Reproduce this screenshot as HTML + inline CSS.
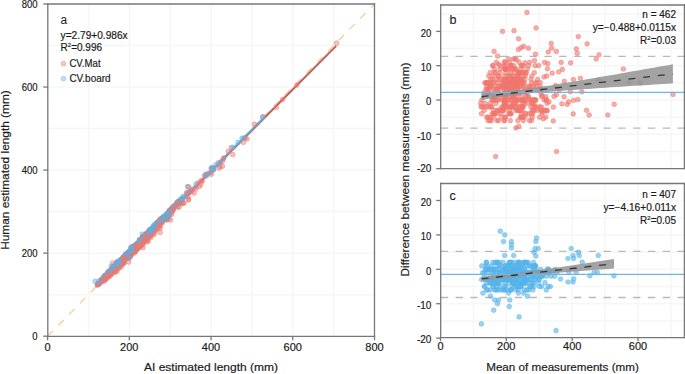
<!DOCTYPE html><html><head><meta charset="utf-8"><style>html,body{margin:0;padding:0;background:#fff;overflow:hidden}svg{display:block}</style></head><body><svg width="685" height="374" viewBox="0 0 685 374" font-family="'Liberation Sans', sans-serif" fill="#1a1a1a">
<style>text{stroke:#1a1a1a;stroke-width:0.18px} .r{fill:rgba(240,118,110,0.45);stroke:rgba(240,118,110,0.62)} .b{fill:rgba(86,180,233,0.45);stroke:rgba(86,180,233,0.62)}</style>
<rect width="685" height="374" fill="#fff"/>
<g stroke="#f6f6f6" stroke-width="1.5"><line x1="88.46" y1="4.0" x2="88.46" y2="336.3"/><line x1="47.8" y1="294.68" x2="374.5" y2="294.68"/><line x1="129.32" y1="4.0" x2="129.32" y2="336.3"/><line x1="47.8" y1="253.15" x2="374.5" y2="253.15"/><line x1="170.19" y1="4.0" x2="170.19" y2="336.3"/><line x1="47.8" y1="211.62" x2="374.5" y2="211.62"/><line x1="211.05" y1="4.0" x2="211.05" y2="336.3"/><line x1="47.8" y1="170.10" x2="374.5" y2="170.10"/><line x1="251.91" y1="4.0" x2="251.91" y2="336.3"/><line x1="47.8" y1="128.57" x2="374.5" y2="128.57"/><line x1="292.77" y1="4.0" x2="292.77" y2="336.3"/><line x1="47.8" y1="87.05" x2="374.5" y2="87.05"/><line x1="333.64" y1="4.0" x2="333.64" y2="336.3"/><line x1="47.8" y1="45.52" x2="374.5" y2="45.52"/></g>
<line x1="47.60" y1="336.20" x2="374.50" y2="4.00" stroke="#F3CA88" stroke-width="1.15" stroke-dasharray="7.6 7.77"/>
<line x1="96.63" y1="285.91" x2="336.09" y2="45.98" stroke="#c8c8c8" stroke-opacity="0.5" stroke-width="3.2"/>
<line x1="96.63" y1="285.91" x2="336.09" y2="45.98" stroke="#BF534C" stroke-width="1.7"/>
<line x1="95.82" y1="286.37" x2="262.54" y2="118.81" stroke="#56AEE3" stroke-width="1.7"/>
<g stroke-width="0.8"><circle cx="142.4" cy="237.4" r="2.35" class="r"/><circle cx="135.0" cy="251.5" r="2.35" class="r"/><circle cx="105.8" cy="279.1" r="2.35" class="r"/><circle cx="156.7" cy="225.7" r="2.35" class="r"/><circle cx="163.4" cy="217.6" r="2.35" class="r"/><circle cx="141.6" cy="239.4" r="2.35" class="b"/><circle cx="148.1" cy="236.1" r="2.35" class="r"/><circle cx="146.1" cy="234.0" r="2.35" class="b"/><circle cx="124.8" cy="259.8" r="2.35" class="r"/><circle cx="125.4" cy="257.9" r="2.35" class="b"/><circle cx="154.1" cy="234.5" r="2.35" class="r"/><circle cx="129.7" cy="256.9" r="2.35" class="r"/><circle cx="162.0" cy="219.1" r="2.35" class="b"/><circle cx="152.2" cy="229.9" r="2.35" class="b"/><circle cx="130.3" cy="255.8" r="2.35" class="r"/><circle cx="134.2" cy="249.4" r="2.35" class="r"/><circle cx="132.6" cy="252.3" r="2.35" class="r"/><circle cx="125.0" cy="256.3" r="2.35" class="r"/><circle cx="172.0" cy="208.9" r="2.35" class="b"/><circle cx="114.0" cy="268.7" r="2.35" class="r"/><circle cx="135.9" cy="246.5" r="2.35" class="b"/><circle cx="137.9" cy="243.6" r="2.35" class="b"/><circle cx="171.6" cy="214.4" r="2.35" class="r"/><circle cx="136.1" cy="245.5" r="2.35" class="r"/><circle cx="242.1" cy="138.2" r="2.35" class="b"/><circle cx="131.4" cy="250.7" r="2.35" class="b"/><circle cx="172.6" cy="210.0" r="2.35" class="r"/><circle cx="174.1" cy="205.4" r="2.35" class="r"/><circle cx="136.9" cy="248.4" r="2.35" class="r"/><circle cx="159.8" cy="220.1" r="2.35" class="b"/><circle cx="143.8" cy="240.1" r="2.35" class="r"/><circle cx="139.7" cy="240.1" r="2.35" class="b"/><circle cx="142.2" cy="240.5" r="2.35" class="r"/><circle cx="128.9" cy="252.7" r="2.35" class="r"/><circle cx="112.6" cy="268.5" r="2.35" class="b"/><circle cx="163.4" cy="217.2" r="2.35" class="b"/><circle cx="123.2" cy="258.5" r="2.35" class="r"/><circle cx="144.2" cy="236.7" r="2.35" class="r"/><circle cx="163.9" cy="218.1" r="2.35" class="r"/><circle cx="129.7" cy="254.8" r="2.35" class="r"/><circle cx="162.6" cy="219.7" r="2.35" class="b"/><circle cx="163.6" cy="218.3" r="2.35" class="b"/><circle cx="245.1" cy="138.0" r="2.35" class="r"/><circle cx="194.2" cy="193.1" r="2.35" class="r"/><circle cx="155.1" cy="227.4" r="2.35" class="b"/><circle cx="145.1" cy="236.7" r="2.35" class="b"/><circle cx="138.7" cy="243.6" r="2.35" class="b"/><circle cx="149.5" cy="229.8" r="2.35" class="b"/><circle cx="148.9" cy="232.4" r="2.35" class="r"/><circle cx="138.3" cy="245.7" r="2.35" class="r"/><circle cx="98.1" cy="283.7" r="2.35" class="b"/><circle cx="141.4" cy="240.9" r="2.35" class="r"/><circle cx="128.1" cy="256.0" r="2.35" class="b"/><circle cx="148.7" cy="233.8" r="2.35" class="r"/><circle cx="143.1" cy="236.0" r="2.35" class="r"/><circle cx="144.2" cy="240.1" r="2.35" class="r"/><circle cx="176.9" cy="204.4" r="2.35" class="b"/><circle cx="155.7" cy="226.0" r="2.35" class="b"/><circle cx="115.2" cy="267.5" r="2.35" class="r"/><circle cx="173.6" cy="206.7" r="2.35" class="r"/><circle cx="141.4" cy="240.1" r="2.35" class="b"/><circle cx="153.2" cy="227.2" r="2.35" class="b"/><circle cx="172.7" cy="208.2" r="2.35" class="r"/><circle cx="108.7" cy="275.8" r="2.35" class="r"/><circle cx="133.8" cy="247.3" r="2.35" class="b"/><circle cx="99.1" cy="284.3" r="2.35" class="b"/><circle cx="179.1" cy="207.2" r="2.35" class="r"/><circle cx="182.9" cy="196.7" r="2.35" class="b"/><circle cx="148.9" cy="232.4" r="2.35" class="r"/><circle cx="117.9" cy="268.1" r="2.35" class="r"/><circle cx="137.3" cy="243.8" r="2.35" class="b"/><circle cx="206.6" cy="174.4" r="2.35" class="r"/><circle cx="106.2" cy="277.0" r="2.35" class="b"/><circle cx="126.7" cy="255.0" r="2.35" class="b"/><circle cx="212.4" cy="167.6" r="2.35" class="b"/><circle cx="134.4" cy="248.8" r="2.35" class="b"/><circle cx="105.4" cy="277.4" r="2.35" class="b"/><circle cx="152.4" cy="233.0" r="2.35" class="r"/><circle cx="180.8" cy="203.7" r="2.35" class="r"/><circle cx="144.6" cy="238.8" r="2.35" class="r"/><circle cx="158.7" cy="221.2" r="2.35" class="b"/><circle cx="146.3" cy="238.0" r="2.35" class="r"/><circle cx="153.2" cy="231.3" r="2.35" class="r"/><circle cx="186.5" cy="194.6" r="2.35" class="b"/><circle cx="231.3" cy="147.7" r="2.35" class="r"/><circle cx="119.1" cy="268.1" r="2.35" class="r"/><circle cx="123.6" cy="262.7" r="2.35" class="r"/><circle cx="132.2" cy="250.2" r="2.35" class="r"/><circle cx="172.8" cy="207.3" r="2.35" class="r"/><circle cx="141.0" cy="240.9" r="2.35" class="r"/><circle cx="133.8" cy="247.3" r="2.35" class="b"/><circle cx="128.7" cy="257.9" r="2.35" class="r"/><circle cx="195.7" cy="187.0" r="2.35" class="r"/><circle cx="101.7" cy="280.8" r="2.35" class="b"/><circle cx="114.2" cy="266.9" r="2.35" class="b"/><circle cx="156.7" cy="225.7" r="2.35" class="r"/><circle cx="150.0" cy="230.9" r="2.35" class="b"/><circle cx="130.1" cy="254.0" r="2.35" class="r"/><circle cx="158.3" cy="223.3" r="2.35" class="b"/><circle cx="143.6" cy="237.8" r="2.35" class="b"/><circle cx="161.0" cy="219.7" r="2.35" class="r"/><circle cx="132.6" cy="249.0" r="2.35" class="b"/><circle cx="158.3" cy="222.4" r="2.35" class="b"/><circle cx="223.9" cy="157.9" r="2.35" class="b"/><circle cx="149.8" cy="234.9" r="2.35" class="r"/><circle cx="165.3" cy="216.6" r="2.35" class="r"/><circle cx="140.2" cy="244.6" r="2.35" class="r"/><circle cx="154.5" cy="230.5" r="2.35" class="r"/><circle cx="117.1" cy="263.9" r="2.35" class="b"/><circle cx="130.6" cy="252.7" r="2.35" class="r"/><circle cx="187.2" cy="193.5" r="2.35" class="r"/><circle cx="131.6" cy="252.9" r="2.35" class="r"/><circle cx="254.4" cy="124.2" r="2.35" class="r"/><circle cx="113.6" cy="266.6" r="2.35" class="b"/><circle cx="124.0" cy="257.3" r="2.35" class="b"/><circle cx="126.9" cy="254.8" r="2.35" class="b"/><circle cx="108.7" cy="276.2" r="2.35" class="r"/><circle cx="126.3" cy="254.2" r="2.35" class="b"/><circle cx="139.3" cy="242.6" r="2.35" class="b"/><circle cx="128.9" cy="253.1" r="2.35" class="b"/><circle cx="133.8" cy="246.1" r="2.35" class="b"/><circle cx="139.9" cy="240.7" r="2.35" class="b"/><circle cx="220.6" cy="162.1" r="2.35" class="b"/><circle cx="159.2" cy="227.0" r="2.35" class="r"/><circle cx="137.3" cy="248.4" r="2.35" class="b"/><circle cx="126.3" cy="256.3" r="2.35" class="b"/><circle cx="150.6" cy="233.6" r="2.35" class="r"/><circle cx="133.6" cy="248.8" r="2.35" class="b"/><circle cx="135.7" cy="244.6" r="2.35" class="b"/><circle cx="98.7" cy="283.5" r="2.35" class="r"/><circle cx="184.2" cy="203.2" r="2.35" class="r"/><circle cx="192.0" cy="189.0" r="2.35" class="b"/><circle cx="135.9" cy="246.5" r="2.35" class="r"/><circle cx="161.8" cy="218.5" r="2.35" class="b"/><circle cx="105.4" cy="275.0" r="2.35" class="r"/><circle cx="105.4" cy="275.4" r="2.35" class="r"/><circle cx="123.4" cy="257.9" r="2.35" class="b"/><circle cx="148.2" cy="241.4" r="2.35" class="r"/><circle cx="157.7" cy="223.9" r="2.35" class="b"/><circle cx="142.0" cy="239.0" r="2.35" class="r"/><circle cx="177.7" cy="202.7" r="2.35" class="r"/><circle cx="129.5" cy="254.2" r="2.35" class="r"/><circle cx="132.6" cy="251.5" r="2.35" class="r"/><circle cx="163.0" cy="216.8" r="2.35" class="b"/><circle cx="133.0" cy="248.6" r="2.35" class="b"/><circle cx="130.8" cy="254.2" r="2.35" class="r"/><circle cx="107.7" cy="276.4" r="2.35" class="r"/><circle cx="139.3" cy="242.1" r="2.35" class="r"/><circle cx="154.0" cy="228.0" r="2.35" class="r"/><circle cx="151.2" cy="229.3" r="2.35" class="b"/><circle cx="120.7" cy="261.9" r="2.35" class="b"/><circle cx="120.3" cy="260.6" r="2.35" class="b"/><circle cx="135.7" cy="251.3" r="2.35" class="r"/><circle cx="140.4" cy="246.1" r="2.35" class="r"/><circle cx="128.7" cy="262.1" r="2.35" class="r"/><circle cx="173.7" cy="208.5" r="2.35" class="r"/><circle cx="134.8" cy="248.8" r="2.35" class="r"/><circle cx="181.8" cy="199.8" r="2.35" class="b"/><circle cx="151.2" cy="230.5" r="2.35" class="r"/><circle cx="152.2" cy="228.7" r="2.35" class="b"/><circle cx="114.6" cy="266.4" r="2.35" class="r"/><circle cx="151.2" cy="228.9" r="2.35" class="r"/><circle cx="169.8" cy="211.2" r="2.35" class="b"/><circle cx="114.0" cy="270.8" r="2.35" class="r"/><circle cx="127.5" cy="254.6" r="2.35" class="r"/><circle cx="135.5" cy="248.6" r="2.35" class="r"/><circle cx="124.2" cy="257.1" r="2.35" class="b"/><circle cx="157.3" cy="228.4" r="2.35" class="r"/><circle cx="165.9" cy="216.0" r="2.35" class="r"/><circle cx="118.5" cy="266.2" r="2.35" class="r"/><circle cx="126.9" cy="256.1" r="2.35" class="r"/><circle cx="136.3" cy="246.1" r="2.35" class="r"/><circle cx="139.3" cy="242.1" r="2.35" class="b"/><circle cx="147.1" cy="238.4" r="2.35" class="r"/><circle cx="219.2" cy="168.0" r="2.35" class="r"/><circle cx="163.4" cy="219.3" r="2.35" class="b"/><circle cx="121.8" cy="263.3" r="2.35" class="r"/><circle cx="140.6" cy="240.5" r="2.35" class="b"/><circle cx="146.9" cy="233.6" r="2.35" class="b"/><circle cx="152.4" cy="230.5" r="2.35" class="b"/><circle cx="142.8" cy="239.0" r="2.35" class="b"/><circle cx="120.5" cy="262.9" r="2.35" class="b"/><circle cx="142.2" cy="240.1" r="2.35" class="r"/><circle cx="127.9" cy="254.2" r="2.35" class="b"/><circle cx="238.0" cy="142.4" r="2.35" class="b"/><circle cx="179.4" cy="201.0" r="2.35" class="r"/><circle cx="139.3" cy="241.7" r="2.35" class="b"/><circle cx="146.1" cy="236.1" r="2.35" class="b"/><circle cx="125.4" cy="258.8" r="2.35" class="r"/><circle cx="148.5" cy="231.6" r="2.35" class="r"/><circle cx="139.9" cy="242.4" r="2.35" class="r"/><circle cx="146.9" cy="235.3" r="2.35" class="b"/><circle cx="161.0" cy="218.5" r="2.35" class="b"/><circle cx="211.3" cy="174.3" r="2.35" class="r"/><circle cx="147.1" cy="235.1" r="2.35" class="b"/><circle cx="132.6" cy="252.7" r="2.35" class="r"/><circle cx="158.5" cy="223.9" r="2.35" class="b"/><circle cx="187.9" cy="196.9" r="2.35" class="r"/><circle cx="150.4" cy="235.1" r="2.35" class="r"/><circle cx="139.1" cy="245.3" r="2.35" class="r"/><circle cx="160.4" cy="219.5" r="2.35" class="r"/><circle cx="133.6" cy="249.6" r="2.35" class="r"/><circle cx="129.9" cy="251.7" r="2.35" class="b"/><circle cx="134.0" cy="245.9" r="2.35" class="b"/><circle cx="180.4" cy="199.2" r="2.35" class="b"/><circle cx="223.5" cy="158.4" r="2.35" class="r"/><circle cx="120.9" cy="261.2" r="2.35" class="b"/><circle cx="109.3" cy="273.1" r="2.35" class="r"/><circle cx="142.9" cy="236.5" r="2.35" class="b"/><circle cx="165.3" cy="217.0" r="2.35" class="b"/><circle cx="107.7" cy="272.7" r="2.35" class="r"/><circle cx="149.8" cy="236.1" r="2.35" class="r"/><circle cx="131.2" cy="252.5" r="2.35" class="r"/><circle cx="139.5" cy="244.0" r="2.35" class="r"/><circle cx="130.8" cy="252.1" r="2.35" class="b"/><circle cx="212.9" cy="169.9" r="2.35" class="b"/><circle cx="166.1" cy="218.2" r="2.35" class="b"/><circle cx="97.7" cy="284.5" r="2.35" class="r"/><circle cx="120.5" cy="260.0" r="2.35" class="b"/><circle cx="128.3" cy="254.6" r="2.35" class="b"/><circle cx="129.5" cy="253.8" r="2.35" class="r"/><circle cx="182.4" cy="198.8" r="2.35" class="b"/><circle cx="172.8" cy="208.1" r="2.35" class="b"/><circle cx="161.2" cy="223.3" r="2.35" class="r"/><circle cx="141.6" cy="240.7" r="2.35" class="b"/><circle cx="113.4" cy="269.3" r="2.35" class="b"/><circle cx="141.2" cy="244.4" r="2.35" class="r"/><circle cx="137.5" cy="245.3" r="2.35" class="b"/><circle cx="161.2" cy="219.1" r="2.35" class="b"/><circle cx="144.9" cy="240.3" r="2.35" class="r"/><circle cx="145.5" cy="238.8" r="2.35" class="r"/><circle cx="222.6" cy="161.0" r="2.35" class="r"/><circle cx="131.4" cy="254.8" r="2.35" class="r"/><circle cx="111.5" cy="271.2" r="2.35" class="r"/><circle cx="136.1" cy="245.5" r="2.35" class="b"/><circle cx="124.4" cy="257.3" r="2.35" class="b"/><circle cx="102.4" cy="279.3" r="2.35" class="b"/><circle cx="142.0" cy="238.2" r="2.35" class="b"/><circle cx="165.7" cy="219.5" r="2.35" class="r"/><circle cx="146.9" cy="238.6" r="2.35" class="r"/><circle cx="112.4" cy="268.3" r="2.35" class="b"/><circle cx="157.7" cy="222.6" r="2.35" class="b"/><circle cx="120.9" cy="261.2" r="2.35" class="b"/><circle cx="145.9" cy="237.2" r="2.35" class="b"/><circle cx="131.6" cy="250.0" r="2.35" class="b"/><circle cx="124.8" cy="259.4" r="2.35" class="r"/><circle cx="130.1" cy="256.9" r="2.35" class="r"/><circle cx="150.6" cy="231.6" r="2.35" class="r"/><circle cx="118.7" cy="264.8" r="2.35" class="b"/><circle cx="159.0" cy="222.6" r="2.35" class="b"/><circle cx="218.2" cy="162.9" r="2.35" class="r"/><circle cx="128.9" cy="257.3" r="2.35" class="r"/><circle cx="108.9" cy="272.3" r="2.35" class="b"/><circle cx="137.9" cy="248.6" r="2.35" class="r"/><circle cx="154.7" cy="226.6" r="2.35" class="b"/><circle cx="103.8" cy="279.1" r="2.35" class="b"/><circle cx="136.3" cy="246.5" r="2.35" class="r"/><circle cx="134.0" cy="248.8" r="2.35" class="b"/><circle cx="124.1" cy="263.1" r="2.35" class="b"/><circle cx="153.6" cy="226.0" r="2.35" class="b"/><circle cx="154.0" cy="226.8" r="2.35" class="b"/><circle cx="211.5" cy="168.0" r="2.35" class="r"/><circle cx="159.0" cy="224.7" r="2.35" class="r"/><circle cx="147.3" cy="239.4" r="2.35" class="r"/><circle cx="142.4" cy="237.8" r="2.35" class="b"/><circle cx="150.6" cy="231.1" r="2.35" class="b"/><circle cx="135.5" cy="246.1" r="2.35" class="b"/><circle cx="146.5" cy="233.6" r="2.35" class="b"/><circle cx="148.1" cy="236.5" r="2.35" class="r"/><circle cx="169.8" cy="210.0" r="2.35" class="b"/><circle cx="166.6" cy="220.0" r="2.35" class="r"/><circle cx="104.0" cy="276.8" r="2.35" class="r"/><circle cx="172.2" cy="211.2" r="2.35" class="r"/><circle cx="117.7" cy="263.3" r="2.35" class="b"/><circle cx="131.6" cy="252.1" r="2.35" class="r"/><circle cx="146.9" cy="234.5" r="2.35" class="r"/><circle cx="136.5" cy="244.2" r="2.35" class="b"/><circle cx="136.5" cy="245.1" r="2.35" class="r"/><circle cx="138.1" cy="243.8" r="2.35" class="r"/><circle cx="140.6" cy="240.1" r="2.35" class="b"/><circle cx="118.1" cy="267.1" r="2.35" class="r"/><circle cx="121.2" cy="261.9" r="2.35" class="b"/><circle cx="116.3" cy="262.2" r="2.35" class="b"/><circle cx="128.7" cy="251.3" r="2.35" class="b"/><circle cx="162.4" cy="222.4" r="2.35" class="r"/><circle cx="112.8" cy="268.7" r="2.35" class="r"/><circle cx="127.1" cy="253.8" r="2.35" class="b"/><circle cx="121.4" cy="260.0" r="2.35" class="r"/><circle cx="132.6" cy="248.6" r="2.35" class="r"/><circle cx="137.9" cy="244.8" r="2.35" class="r"/><circle cx="141.4" cy="241.3" r="2.35" class="b"/><circle cx="130.8" cy="247.2" r="2.35" class="b"/><circle cx="120.7" cy="264.8" r="2.35" class="r"/><circle cx="131.8" cy="246.9" r="2.35" class="b"/><circle cx="143.0" cy="236.7" r="2.35" class="b"/><circle cx="104.4" cy="279.7" r="2.35" class="r"/><circle cx="152.0" cy="228.9" r="2.35" class="b"/><circle cx="148.1" cy="232.0" r="2.35" class="r"/><circle cx="130.8" cy="252.9" r="2.35" class="r"/><circle cx="126.5" cy="255.6" r="2.35" class="r"/><circle cx="114.4" cy="272.5" r="2.35" class="r"/><circle cx="141.0" cy="240.1" r="2.35" class="b"/><circle cx="145.3" cy="236.1" r="2.35" class="r"/><circle cx="127.5" cy="257.5" r="2.35" class="r"/><circle cx="125.4" cy="256.3" r="2.35" class="r"/><circle cx="129.5" cy="252.5" r="2.35" class="r"/><circle cx="128.3" cy="252.9" r="2.35" class="b"/><circle cx="109.1" cy="272.0" r="2.35" class="b"/><circle cx="139.9" cy="243.2" r="2.35" class="b"/><circle cx="199.6" cy="186.3" r="2.35" class="r"/><circle cx="114.4" cy="267.1" r="2.35" class="b"/><circle cx="117.9" cy="264.4" r="2.35" class="b"/><circle cx="104.8" cy="278.9" r="2.35" class="b"/><circle cx="116.2" cy="266.0" r="2.35" class="r"/><circle cx="137.1" cy="246.5" r="2.35" class="r"/><circle cx="205.1" cy="174.6" r="2.35" class="b"/><circle cx="153.8" cy="227.8" r="2.35" class="b"/><circle cx="98.9" cy="284.1" r="2.35" class="r"/><circle cx="144.3" cy="242.8" r="2.35" class="r"/><circle cx="142.3" cy="234.2" r="2.35" class="b"/><circle cx="139.3" cy="241.7" r="2.35" class="b"/><circle cx="103.6" cy="276.8" r="2.35" class="b"/><circle cx="105.0" cy="278.7" r="2.35" class="b"/><circle cx="172.4" cy="208.9" r="2.35" class="b"/><circle cx="147.3" cy="241.0" r="2.35" class="r"/><circle cx="138.3" cy="243.6" r="2.35" class="b"/><circle cx="213.8" cy="169.8" r="2.35" class="r"/><circle cx="129.3" cy="255.2" r="2.35" class="r"/><circle cx="105.6" cy="276.8" r="2.35" class="b"/><circle cx="103.6" cy="277.6" r="2.35" class="b"/><circle cx="151.4" cy="234.0" r="2.35" class="r"/><circle cx="125.6" cy="254.4" r="2.35" class="r"/><circle cx="155.1" cy="227.8" r="2.35" class="b"/><circle cx="136.9" cy="248.0" r="2.35" class="b"/><circle cx="140.4" cy="240.7" r="2.35" class="b"/><circle cx="147.3" cy="234.0" r="2.35" class="b"/><circle cx="212.8" cy="168.3" r="2.35" class="r"/><circle cx="146.5" cy="235.7" r="2.35" class="r"/><circle cx="120.5" cy="263.3" r="2.35" class="r"/><circle cx="142.8" cy="239.4" r="2.35" class="b"/><circle cx="165.3" cy="217.0" r="2.35" class="b"/><circle cx="118.5" cy="265.0" r="2.35" class="b"/><circle cx="122.0" cy="259.0" r="2.35" class="r"/><circle cx="154.9" cy="230.5" r="2.35" class="r"/><circle cx="133.2" cy="250.0" r="2.35" class="b"/><circle cx="138.9" cy="241.3" r="2.35" class="b"/><circle cx="128.7" cy="253.8" r="2.35" class="b"/><circle cx="134.8" cy="249.6" r="2.35" class="r"/><circle cx="111.3" cy="269.8" r="2.35" class="r"/><circle cx="126.1" cy="254.0" r="2.35" class="b"/><circle cx="128.1" cy="254.4" r="2.35" class="r"/><circle cx="133.0" cy="247.8" r="2.35" class="r"/><circle cx="186.4" cy="192.6" r="2.35" class="r"/><circle cx="115.2" cy="267.5" r="2.35" class="b"/><circle cx="143.0" cy="247.7" r="2.35" class="r"/><circle cx="232.9" cy="154.7" r="2.35" class="r"/><circle cx="124.2" cy="260.0" r="2.35" class="r"/><circle cx="140.4" cy="241.9" r="2.35" class="b"/><circle cx="133.4" cy="251.1" r="2.35" class="r"/><circle cx="159.2" cy="222.0" r="2.35" class="b"/><circle cx="118.7" cy="264.4" r="2.35" class="b"/><circle cx="161.0" cy="220.6" r="2.35" class="r"/><circle cx="129.5" cy="255.0" r="2.35" class="r"/><circle cx="155.7" cy="223.9" r="2.35" class="b"/><circle cx="143.4" cy="242.6" r="2.35" class="r"/><circle cx="113.6" cy="268.3" r="2.35" class="b"/><circle cx="130.8" cy="255.4" r="2.35" class="r"/><circle cx="151.0" cy="235.3" r="2.35" class="r"/><circle cx="107.3" cy="275.6" r="2.35" class="b"/><circle cx="179.8" cy="201.5" r="2.35" class="r"/><circle cx="134.4" cy="252.9" r="2.35" class="r"/><circle cx="118.3" cy="264.4" r="2.35" class="r"/><circle cx="113.2" cy="269.6" r="2.35" class="b"/><circle cx="146.5" cy="234.9" r="2.35" class="b"/><circle cx="142.2" cy="238.8" r="2.35" class="b"/><circle cx="132.6" cy="249.0" r="2.35" class="r"/><circle cx="136.7" cy="244.8" r="2.35" class="b"/><circle cx="196.1" cy="184.1" r="2.35" class="b"/><circle cx="107.3" cy="274.3" r="2.35" class="b"/><circle cx="220.1" cy="166.6" r="2.35" class="r"/><circle cx="120.5" cy="259.6" r="2.35" class="b"/><circle cx="211.1" cy="172.6" r="2.35" class="b"/><circle cx="134.8" cy="248.0" r="2.35" class="b"/><circle cx="103.6" cy="279.3" r="2.35" class="b"/><circle cx="172.0" cy="209.8" r="2.35" class="b"/><circle cx="120.7" cy="260.6" r="2.35" class="r"/><circle cx="228.2" cy="151.4" r="2.35" class="r"/><circle cx="106.4" cy="278.5" r="2.35" class="r"/><circle cx="142.8" cy="239.4" r="2.35" class="b"/><circle cx="107.9" cy="273.7" r="2.35" class="b"/><circle cx="156.9" cy="222.6" r="2.35" class="r"/><circle cx="139.3" cy="244.7" r="2.35" class="b"/><circle cx="336.6" cy="43.2" r="2.35" class="r"/><circle cx="147.1" cy="234.7" r="2.35" class="b"/><circle cx="168.3" cy="213.1" r="2.35" class="b"/><circle cx="118.5" cy="264.2" r="2.35" class="b"/><circle cx="149.1" cy="230.5" r="2.35" class="r"/><circle cx="112.0" cy="268.7" r="2.35" class="r"/><circle cx="157.3" cy="223.0" r="2.35" class="r"/><circle cx="145.3" cy="237.4" r="2.35" class="b"/><circle cx="219.8" cy="163.3" r="2.35" class="b"/><circle cx="159.4" cy="221.8" r="2.35" class="r"/><circle cx="119.5" cy="264.4" r="2.35" class="r"/><circle cx="263.0" cy="116.8" r="2.35" class="r"/><circle cx="149.6" cy="232.2" r="2.35" class="r"/><circle cx="276.4" cy="107.5" r="2.35" class="r"/><circle cx="111.5" cy="271.6" r="2.35" class="b"/><circle cx="144.4" cy="237.0" r="2.35" class="r"/><circle cx="127.1" cy="255.0" r="2.35" class="r"/><circle cx="166.5" cy="214.5" r="2.35" class="r"/><circle cx="129.5" cy="251.7" r="2.35" class="b"/><circle cx="117.8" cy="261.2" r="2.35" class="b"/><circle cx="183.0" cy="203.0" r="2.35" class="r"/><circle cx="181.2" cy="200.0" r="2.35" class="b"/><circle cx="139.5" cy="241.9" r="2.35" class="r"/><circle cx="131.0" cy="250.7" r="2.35" class="r"/><circle cx="118.5" cy="262.9" r="2.35" class="r"/><circle cx="152.0" cy="230.1" r="2.35" class="b"/><circle cx="137.3" cy="243.4" r="2.35" class="b"/><circle cx="113.6" cy="267.5" r="2.35" class="r"/><circle cx="123.2" cy="256.9" r="2.35" class="b"/><circle cx="115.4" cy="268.5" r="2.35" class="r"/><circle cx="152.8" cy="231.3" r="2.35" class="r"/><circle cx="114.4" cy="271.2" r="2.35" class="r"/><circle cx="152.6" cy="233.6" r="2.35" class="r"/><circle cx="127.5" cy="258.4" r="2.35" class="b"/><circle cx="282.6" cy="99.5" r="2.35" class="r"/><circle cx="139.1" cy="245.7" r="2.35" class="r"/><circle cx="126.9" cy="255.6" r="2.35" class="r"/><circle cx="117.0" cy="271.5" r="2.35" class="r"/><circle cx="161.4" cy="218.9" r="2.35" class="r"/><circle cx="103.2" cy="279.3" r="2.35" class="r"/><circle cx="152.6" cy="227.8" r="2.35" class="r"/><circle cx="149.6" cy="230.9" r="2.35" class="b"/><circle cx="116.9" cy="263.3" r="2.35" class="b"/><circle cx="188.4" cy="200.0" r="2.35" class="r"/><circle cx="138.9" cy="243.8" r="2.35" class="r"/><circle cx="136.9" cy="243.8" r="2.35" class="b"/><circle cx="151.2" cy="229.7" r="2.35" class="b"/><circle cx="106.4" cy="277.2" r="2.35" class="r"/><circle cx="151.6" cy="231.3" r="2.35" class="b"/><circle cx="172.8" cy="208.5" r="2.35" class="b"/><circle cx="142.2" cy="242.1" r="2.35" class="r"/><circle cx="113.8" cy="267.7" r="2.35" class="b"/><circle cx="147.3" cy="235.3" r="2.35" class="b"/><circle cx="155.3" cy="226.4" r="2.35" class="r"/><circle cx="296.8" cy="85.1" r="2.35" class="r"/><circle cx="98.8" cy="281.3" r="2.35" class="b"/><circle cx="144.6" cy="240.5" r="2.35" class="r"/><circle cx="108.3" cy="272.5" r="2.35" class="r"/><circle cx="127.3" cy="253.1" r="2.35" class="r"/><circle cx="113.0" cy="268.1" r="2.35" class="b"/><circle cx="101.7" cy="282.0" r="2.35" class="r"/><circle cx="159.8" cy="220.6" r="2.35" class="r"/><circle cx="243.3" cy="142.3" r="2.35" class="r"/><circle cx="139.9" cy="245.3" r="2.35" class="r"/><circle cx="148.9" cy="232.8" r="2.35" class="b"/><circle cx="140.6" cy="240.9" r="2.35" class="b"/><circle cx="168.1" cy="215.4" r="2.35" class="r"/><circle cx="116.5" cy="270.0" r="2.35" class="r"/><circle cx="209.4" cy="172.8" r="2.35" class="r"/><circle cx="140.6" cy="245.5" r="2.35" class="r"/><circle cx="124.0" cy="258.1" r="2.35" class="b"/><circle cx="113.0" cy="270.6" r="2.35" class="b"/><circle cx="125.4" cy="254.6" r="2.35" class="r"/><circle cx="138.5" cy="245.9" r="2.35" class="r"/><circle cx="184.3" cy="196.5" r="2.35" class="b"/><circle cx="149.8" cy="236.5" r="2.35" class="r"/><circle cx="128.3" cy="255.8" r="2.35" class="r"/><circle cx="168.1" cy="212.0" r="2.35" class="b"/><circle cx="195.9" cy="188.9" r="2.35" class="r"/><circle cx="129.7" cy="256.5" r="2.35" class="r"/><circle cx="147.9" cy="236.7" r="2.35" class="r"/><circle cx="159.8" cy="228.4" r="2.35" class="r"/><circle cx="141.8" cy="243.0" r="2.35" class="r"/><circle cx="211.3" cy="168.3" r="2.35" class="b"/><circle cx="123.6" cy="263.1" r="2.35" class="r"/><circle cx="128.3" cy="254.2" r="2.35" class="b"/><circle cx="213.6" cy="168.8" r="2.35" class="b"/><circle cx="169.4" cy="211.2" r="2.35" class="b"/><circle cx="142.2" cy="239.7" r="2.35" class="b"/><circle cx="136.5" cy="245.9" r="2.35" class="b"/><circle cx="167.1" cy="218.9" r="2.35" class="r"/><circle cx="136.5" cy="246.7" r="2.35" class="r"/><circle cx="146.3" cy="236.7" r="2.35" class="b"/><circle cx="133.2" cy="247.5" r="2.35" class="r"/><circle cx="150.2" cy="232.0" r="2.35" class="r"/><circle cx="179.2" cy="202.5" r="2.35" class="r"/><circle cx="137.1" cy="243.6" r="2.35" class="b"/><circle cx="115.8" cy="270.2" r="2.35" class="r"/><circle cx="137.3" cy="243.8" r="2.35" class="b"/><circle cx="173.5" cy="207.5" r="2.35" class="b"/><circle cx="159.2" cy="221.6" r="2.35" class="b"/><circle cx="171.4" cy="209.1" r="2.35" class="r"/><circle cx="152.8" cy="228.0" r="2.35" class="b"/><circle cx="178.4" cy="202.5" r="2.35" class="b"/><circle cx="136.1" cy="245.5" r="2.35" class="b"/><circle cx="129.1" cy="252.9" r="2.35" class="b"/><circle cx="118.3" cy="261.9" r="2.35" class="r"/><circle cx="160.0" cy="222.0" r="2.35" class="r"/><circle cx="134.8" cy="245.9" r="2.35" class="r"/><circle cx="137.7" cy="245.9" r="2.35" class="r"/><circle cx="136.7" cy="247.8" r="2.35" class="r"/><circle cx="140.8" cy="240.3" r="2.35" class="r"/><circle cx="110.9" cy="273.5" r="2.35" class="r"/><circle cx="121.0" cy="267.0" r="2.35" class="r"/><circle cx="177.7" cy="203.5" r="2.35" class="b"/><circle cx="148.7" cy="231.8" r="2.35" class="b"/><circle cx="143.4" cy="237.2" r="2.35" class="b"/><circle cx="134.6" cy="251.5" r="2.35" class="r"/><circle cx="113.4" cy="271.8" r="2.35" class="r"/><circle cx="175.3" cy="206.0" r="2.35" class="b"/><circle cx="142.4" cy="239.4" r="2.35" class="b"/><circle cx="150.0" cy="231.3" r="2.35" class="r"/><circle cx="144.0" cy="239.0" r="2.35" class="b"/><circle cx="190.0" cy="191.5" r="2.35" class="b"/><circle cx="107.3" cy="274.7" r="2.35" class="r"/><circle cx="164.1" cy="217.9" r="2.35" class="b"/><circle cx="175.9" cy="204.6" r="2.35" class="r"/><circle cx="143.8" cy="239.7" r="2.35" class="r"/><circle cx="125.9" cy="255.4" r="2.35" class="r"/><circle cx="148.5" cy="233.6" r="2.35" class="r"/><circle cx="97.7" cy="283.7" r="2.35" class="r"/><circle cx="152.6" cy="227.8" r="2.35" class="r"/><circle cx="191.9" cy="190.2" r="2.35" class="r"/><circle cx="162.0" cy="222.0" r="2.35" class="r"/><circle cx="202.4" cy="181.1" r="2.35" class="r"/><circle cx="187.5" cy="186.7" r="2.35" class="b"/><circle cx="107.5" cy="275.4" r="2.35" class="b"/><circle cx="157.1" cy="222.8" r="2.35" class="b"/><circle cx="122.8" cy="259.0" r="2.35" class="b"/><circle cx="162.2" cy="219.7" r="2.35" class="b"/><circle cx="111.1" cy="270.8" r="2.35" class="r"/><circle cx="152.6" cy="230.7" r="2.35" class="r"/><circle cx="164.1" cy="219.5" r="2.35" class="r"/><circle cx="129.3" cy="252.3" r="2.35" class="b"/><circle cx="136.1" cy="245.9" r="2.35" class="b"/><circle cx="145.9" cy="235.9" r="2.35" class="b"/><circle cx="99.7" cy="282.8" r="2.35" class="b"/><circle cx="107.9" cy="273.3" r="2.35" class="b"/><circle cx="147.9" cy="233.0" r="2.35" class="r"/><circle cx="142.2" cy="243.8" r="2.35" class="r"/><circle cx="162.0" cy="221.6" r="2.35" class="r"/><circle cx="108.9" cy="276.8" r="2.35" class="r"/><circle cx="172.4" cy="208.1" r="2.35" class="r"/><circle cx="117.7" cy="263.3" r="2.35" class="b"/><circle cx="123.4" cy="259.6" r="2.35" class="b"/><circle cx="133.6" cy="249.2" r="2.35" class="r"/><circle cx="167.1" cy="213.5" r="2.35" class="r"/><circle cx="198.1" cy="182.8" r="2.35" class="r"/><circle cx="188.6" cy="199.2" r="2.35" class="r"/><circle cx="188.8" cy="191.9" r="2.35" class="b"/><circle cx="138.9" cy="245.9" r="2.35" class="r"/><circle cx="138.7" cy="243.6" r="2.35" class="b"/><circle cx="151.0" cy="229.9" r="2.35" class="b"/><circle cx="262.5" cy="117.1" r="2.35" class="b"/><circle cx="172.8" cy="210.2" r="2.35" class="r"/><circle cx="109.1" cy="272.9" r="2.35" class="b"/><circle cx="106.6" cy="277.4" r="2.35" class="r"/><circle cx="128.3" cy="254.2" r="2.35" class="b"/><circle cx="120.9" cy="260.4" r="2.35" class="b"/><circle cx="127.1" cy="253.4" r="2.35" class="r"/><circle cx="122.8" cy="263.1" r="2.35" class="r"/><circle cx="137.7" cy="244.2" r="2.35" class="b"/><circle cx="131.2" cy="250.9" r="2.35" class="b"/><circle cx="129.9" cy="256.3" r="2.35" class="r"/><circle cx="111.5" cy="270.8" r="2.35" class="b"/><circle cx="131.0" cy="251.9" r="2.35" class="b"/><circle cx="134.6" cy="247.3" r="2.35" class="b"/><circle cx="170.1" cy="214.2" r="2.35" class="b"/><circle cx="118.5" cy="265.4" r="2.35" class="r"/><circle cx="148.3" cy="236.3" r="2.35" class="r"/><circle cx="180.0" cy="201.7" r="2.35" class="b"/><circle cx="119.5" cy="263.1" r="2.35" class="r"/><circle cx="137.7" cy="246.7" r="2.35" class="r"/><circle cx="104.8" cy="276.8" r="2.35" class="b"/><circle cx="127.5" cy="256.3" r="2.35" class="r"/><circle cx="101.3" cy="280.8" r="2.35" class="r"/><circle cx="116.7" cy="266.9" r="2.35" class="b"/><circle cx="168.1" cy="215.8" r="2.35" class="r"/><circle cx="168.3" cy="219.1" r="2.35" class="r"/><circle cx="178.6" cy="203.1" r="2.35" class="r"/><circle cx="114.2" cy="268.5" r="2.35" class="r"/><circle cx="112.8" cy="269.6" r="2.35" class="b"/><circle cx="133.0" cy="246.9" r="2.35" class="r"/><circle cx="169.8" cy="211.6" r="2.35" class="b"/><circle cx="144.0" cy="237.4" r="2.35" class="b"/><circle cx="140.8" cy="241.5" r="2.35" class="r"/><circle cx="138.9" cy="243.4" r="2.35" class="b"/><circle cx="139.1" cy="241.9" r="2.35" class="b"/><circle cx="144.9" cy="236.1" r="2.35" class="r"/><circle cx="163.9" cy="217.6" r="2.35" class="b"/><circle cx="109.9" cy="272.9" r="2.35" class="b"/><circle cx="108.1" cy="272.3" r="2.35" class="b"/><circle cx="140.2" cy="243.8" r="2.35" class="r"/><circle cx="134.2" cy="248.2" r="2.35" class="b"/><circle cx="151.8" cy="232.0" r="2.35" class="r"/><circle cx="116.9" cy="264.6" r="2.35" class="r"/><circle cx="109.7" cy="272.3" r="2.35" class="r"/><circle cx="121.4" cy="260.8" r="2.35" class="b"/><circle cx="153.2" cy="228.9" r="2.35" class="r"/><circle cx="120.3" cy="261.0" r="2.35" class="b"/><circle cx="122.6" cy="261.7" r="2.35" class="r"/><circle cx="117.5" cy="263.9" r="2.35" class="b"/><circle cx="133.0" cy="246.9" r="2.35" class="b"/><circle cx="143.6" cy="241.1" r="2.35" class="r"/><circle cx="140.8" cy="240.7" r="2.35" class="b"/><circle cx="140.4" cy="242.4" r="2.35" class="b"/><circle cx="142.2" cy="240.5" r="2.35" class="b"/><circle cx="132.2" cy="249.0" r="2.35" class="b"/><circle cx="150.4" cy="230.9" r="2.35" class="b"/><circle cx="127.9" cy="257.5" r="2.35" class="r"/><circle cx="151.0" cy="230.7" r="2.35" class="b"/><circle cx="126.1" cy="255.6" r="2.35" class="b"/><circle cx="179.0" cy="201.3" r="2.35" class="r"/><circle cx="112.6" cy="263.3" r="2.35" class="r"/><circle cx="148.1" cy="232.8" r="2.35" class="b"/><circle cx="145.1" cy="238.0" r="2.35" class="b"/><circle cx="206.7" cy="174.2" r="2.35" class="b"/><circle cx="143.4" cy="238.0" r="2.35" class="b"/><circle cx="167.5" cy="217.6" r="2.35" class="b"/><circle cx="163.4" cy="218.1" r="2.35" class="r"/><circle cx="136.1" cy="249.6" r="2.35" class="r"/><circle cx="147.3" cy="236.5" r="2.35" class="r"/><circle cx="156.7" cy="226.2" r="2.35" class="b"/><circle cx="137.1" cy="248.2" r="2.35" class="b"/><circle cx="146.5" cy="239.0" r="2.35" class="r"/><circle cx="163.0" cy="219.3" r="2.35" class="b"/><circle cx="113.8" cy="267.7" r="2.35" class="b"/><circle cx="146.3" cy="239.2" r="2.35" class="r"/><circle cx="121.2" cy="264.4" r="2.35" class="r"/><circle cx="132.4" cy="252.5" r="2.35" class="r"/><circle cx="164.3" cy="218.1" r="2.35" class="b"/><circle cx="112.0" cy="268.7" r="2.35" class="b"/><circle cx="140.6" cy="240.1" r="2.35" class="b"/><circle cx="135.0" cy="246.5" r="2.35" class="b"/><circle cx="123.6" cy="257.7" r="2.35" class="b"/><circle cx="201.1" cy="180.6" r="2.35" class="r"/><circle cx="114.4" cy="267.9" r="2.35" class="b"/><circle cx="133.2" cy="248.0" r="2.35" class="b"/><circle cx="142.6" cy="239.7" r="2.35" class="r"/><circle cx="124.0" cy="258.5" r="2.35" class="r"/><circle cx="191.2" cy="192.0" r="2.35" class="r"/><circle cx="156.7" cy="226.6" r="2.35" class="r"/><circle cx="163.9" cy="216.8" r="2.35" class="r"/><circle cx="163.4" cy="218.5" r="2.35" class="r"/><circle cx="146.3" cy="238.8" r="2.35" class="r"/><circle cx="145.5" cy="235.9" r="2.35" class="b"/><circle cx="244.3" cy="138.0" r="2.35" class="b"/><circle cx="146.5" cy="233.6" r="2.35" class="r"/><circle cx="116.5" cy="264.6" r="2.35" class="b"/><circle cx="150.4" cy="229.3" r="2.35" class="b"/><circle cx="143.6" cy="241.1" r="2.35" class="r"/><circle cx="154.0" cy="228.4" r="2.35" class="r"/><circle cx="121.4" cy="261.7" r="2.35" class="r"/><circle cx="111.2" cy="266.6" r="2.35" class="b"/><circle cx="172.4" cy="211.5" r="2.35" class="r"/><circle cx="119.9" cy="264.4" r="2.35" class="r"/><circle cx="105.0" cy="275.4" r="2.35" class="b"/><circle cx="143.2" cy="237.0" r="2.35" class="b"/><circle cx="176.3" cy="205.4" r="2.35" class="r"/><circle cx="112.2" cy="268.9" r="2.35" class="r"/><circle cx="149.6" cy="231.8" r="2.35" class="b"/><circle cx="148.1" cy="233.2" r="2.35" class="b"/><circle cx="113.8" cy="269.3" r="2.35" class="r"/><circle cx="150.2" cy="231.6" r="2.35" class="b"/><circle cx="130.6" cy="249.0" r="2.35" class="b"/><circle cx="172.2" cy="207.5" r="2.35" class="b"/><circle cx="178.4" cy="203.7" r="2.35" class="r"/><circle cx="132.4" cy="251.7" r="2.35" class="r"/><circle cx="142.2" cy="238.4" r="2.35" class="b"/><circle cx="151.6" cy="228.9" r="2.35" class="b"/><circle cx="119.1" cy="262.3" r="2.35" class="b"/><circle cx="143.2" cy="240.7" r="2.35" class="r"/><circle cx="97.2" cy="285.3" r="2.35" class="r"/><circle cx="164.7" cy="216.4" r="2.35" class="r"/><circle cx="128.1" cy="256.1" r="2.35" class="r"/><circle cx="143.8" cy="240.5" r="2.35" class="r"/><circle cx="131.8" cy="249.0" r="2.35" class="b"/><circle cx="170.4" cy="210.6" r="2.35" class="r"/><circle cx="136.3" cy="244.8" r="2.35" class="b"/><circle cx="147.1" cy="233.4" r="2.35" class="r"/><circle cx="145.3" cy="237.0" r="2.35" class="b"/><circle cx="166.7" cy="216.8" r="2.35" class="b"/><circle cx="139.5" cy="239.4" r="2.35" class="r"/><circle cx="165.5" cy="215.2" r="2.35" class="b"/><circle cx="151.2" cy="232.6" r="2.35" class="r"/><circle cx="130.6" cy="251.1" r="2.35" class="b"/><circle cx="149.3" cy="231.1" r="2.35" class="b"/><circle cx="159.4" cy="220.1" r="2.35" class="r"/><circle cx="169.4" cy="214.9" r="2.35" class="r"/><circle cx="130.1" cy="253.6" r="2.35" class="r"/><circle cx="151.4" cy="229.5" r="2.35" class="b"/><circle cx="135.5" cy="246.1" r="2.35" class="r"/><circle cx="166.1" cy="215.8" r="2.35" class="b"/><circle cx="126.9" cy="255.6" r="2.35" class="r"/><circle cx="161.2" cy="220.3" r="2.35" class="r"/><circle cx="143.4" cy="240.5" r="2.35" class="r"/><circle cx="124.0" cy="257.3" r="2.35" class="r"/><circle cx="130.1" cy="251.1" r="2.35" class="b"/><circle cx="139.7" cy="241.3" r="2.35" class="b"/><circle cx="177.5" cy="207.0" r="2.35" class="r"/><circle cx="127.3" cy="254.4" r="2.35" class="r"/><circle cx="168.6" cy="217.0" r="2.35" class="b"/><circle cx="146.1" cy="234.0" r="2.35" class="b"/><circle cx="142.8" cy="240.3" r="2.35" class="r"/><circle cx="130.6" cy="251.9" r="2.35" class="r"/><circle cx="127.7" cy="253.6" r="2.35" class="b"/><circle cx="146.1" cy="237.8" r="2.35" class="r"/><circle cx="128.5" cy="254.4" r="2.35" class="b"/><circle cx="127.7" cy="252.7" r="2.35" class="b"/><circle cx="149.3" cy="232.4" r="2.35" class="b"/><circle cx="161.2" cy="220.8" r="2.35" class="r"/><circle cx="154.3" cy="228.7" r="2.35" class="r"/><circle cx="164.7" cy="219.3" r="2.35" class="b"/><circle cx="152.2" cy="230.7" r="2.35" class="b"/><circle cx="108.1" cy="271.5" r="2.35" class="b"/><circle cx="160.2" cy="232.4" r="2.35" class="r"/><circle cx="110.9" cy="274.3" r="2.35" class="r"/><circle cx="126.5" cy="256.1" r="2.35" class="b"/><circle cx="122.6" cy="257.9" r="2.35" class="r"/><circle cx="137.1" cy="244.8" r="2.35" class="b"/><circle cx="145.3" cy="236.5" r="2.35" class="b"/><circle cx="107.5" cy="276.6" r="2.35" class="r"/><circle cx="177.7" cy="201.5" r="2.35" class="b"/><circle cx="135.3" cy="248.0" r="2.35" class="b"/><circle cx="130.1" cy="251.9" r="2.35" class="b"/><circle cx="138.1" cy="244.6" r="2.35" class="r"/><circle cx="136.7" cy="245.3" r="2.35" class="r"/><circle cx="128.7" cy="255.4" r="2.35" class="r"/><circle cx="188.5" cy="186.7" r="2.35" class="r"/><circle cx="143.4" cy="238.4" r="2.35" class="b"/><circle cx="169.6" cy="210.2" r="2.35" class="r"/><circle cx="112.2" cy="270.6" r="2.35" class="r"/><circle cx="130.3" cy="255.4" r="2.35" class="r"/><circle cx="149.3" cy="233.2" r="2.35" class="b"/><circle cx="126.7" cy="257.9" r="2.35" class="r"/><circle cx="124.8" cy="260.2" r="2.35" class="r"/><circle cx="247.1" cy="139.0" r="2.35" class="r"/><circle cx="222.4" cy="166.2" r="2.35" class="r"/><circle cx="150.6" cy="233.6" r="2.35" class="r"/><circle cx="140.6" cy="240.9" r="2.35" class="b"/><circle cx="146.3" cy="236.7" r="2.35" class="r"/><circle cx="127.3" cy="256.5" r="2.35" class="r"/><circle cx="188.7" cy="193.2" r="2.35" class="r"/><circle cx="101.5" cy="279.3" r="2.35" class="b"/><circle cx="125.4" cy="256.3" r="2.35" class="r"/><circle cx="154.0" cy="224.8" r="2.35" class="b"/><circle cx="134.4" cy="250.9" r="2.35" class="r"/><circle cx="153.8" cy="229.1" r="2.35" class="b"/><circle cx="159.4" cy="223.9" r="2.35" class="r"/><circle cx="131.2" cy="250.9" r="2.35" class="b"/><circle cx="166.5" cy="217.4" r="2.35" class="r"/><circle cx="148.1" cy="232.4" r="2.35" class="b"/><circle cx="101.1" cy="279.7" r="2.35" class="b"/><circle cx="155.9" cy="229.5" r="2.35" class="r"/><circle cx="154.5" cy="226.4" r="2.35" class="b"/><circle cx="136.9" cy="245.1" r="2.35" class="b"/><circle cx="113.1" cy="266.0" r="2.35" class="b"/><circle cx="181.4" cy="200.2" r="2.35" class="b"/><circle cx="143.6" cy="240.3" r="2.35" class="r"/><circle cx="129.1" cy="252.5" r="2.35" class="b"/><circle cx="110.1" cy="274.7" r="2.35" class="r"/><circle cx="109.7" cy="270.6" r="2.35" class="r"/><circle cx="126.5" cy="256.1" r="2.35" class="r"/><circle cx="143.6" cy="236.5" r="2.35" class="b"/><circle cx="162.2" cy="218.5" r="2.35" class="r"/><circle cx="110.3" cy="274.1" r="2.35" class="r"/><circle cx="145.1" cy="235.9" r="2.35" class="b"/><circle cx="117.1" cy="263.9" r="2.35" class="r"/><circle cx="150.8" cy="230.1" r="2.35" class="b"/><circle cx="136.5" cy="250.0" r="2.35" class="r"/><circle cx="157.1" cy="224.5" r="2.35" class="b"/><circle cx="169.6" cy="211.0" r="2.35" class="b"/><circle cx="101.7" cy="280.3" r="2.35" class="b"/><circle cx="108.5" cy="275.2" r="2.35" class="r"/><circle cx="136.1" cy="247.1" r="2.35" class="b"/><circle cx="126.9" cy="254.4" r="2.35" class="b"/><circle cx="125.6" cy="254.4" r="2.35" class="b"/><circle cx="132.4" cy="250.5" r="2.35" class="b"/><circle cx="110.9" cy="275.2" r="2.35" class="r"/><circle cx="149.3" cy="232.8" r="2.35" class="r"/><circle cx="142.2" cy="239.2" r="2.35" class="b"/><circle cx="147.5" cy="233.8" r="2.35" class="b"/><circle cx="115.2" cy="265.0" r="2.35" class="b"/><circle cx="114.4" cy="269.6" r="2.35" class="r"/><circle cx="106.6" cy="277.4" r="2.35" class="r"/><circle cx="232.7" cy="147.3" r="2.35" class="b"/><circle cx="182.2" cy="203.2" r="2.35" class="r"/><circle cx="157.9" cy="224.5" r="2.35" class="b"/><circle cx="104.2" cy="279.1" r="2.35" class="b"/><circle cx="112.0" cy="270.8" r="2.35" class="b"/><circle cx="215.9" cy="164.8" r="2.35" class="b"/><circle cx="150.2" cy="232.0" r="2.35" class="r"/><circle cx="119.5" cy="262.3" r="2.35" class="b"/><circle cx="137.9" cy="246.1" r="2.35" class="r"/><circle cx="164.9" cy="217.0" r="2.35" class="r"/><circle cx="113.4" cy="271.4" r="2.35" class="r"/><circle cx="116.0" cy="267.5" r="2.35" class="b"/><circle cx="128.5" cy="256.5" r="2.35" class="r"/><circle cx="103.8" cy="281.2" r="2.35" class="r"/><circle cx="145.9" cy="234.3" r="2.35" class="r"/><circle cx="157.9" cy="225.7" r="2.35" class="r"/><circle cx="144.6" cy="238.4" r="2.35" class="r"/><circle cx="140.6" cy="240.9" r="2.35" class="b"/><circle cx="115.8" cy="264.8" r="2.35" class="b"/><circle cx="147.5" cy="233.8" r="2.35" class="b"/><circle cx="129.1" cy="253.8" r="2.35" class="r"/><circle cx="159.8" cy="222.2" r="2.35" class="r"/><circle cx="128.9" cy="254.0" r="2.35" class="r"/><circle cx="105.0" cy="279.9" r="2.35" class="r"/><circle cx="150.9" cy="237.6" r="2.35" class="r"/><circle cx="110.1" cy="271.4" r="2.35" class="b"/><circle cx="143.8" cy="237.2" r="2.35" class="r"/><circle cx="115.0" cy="268.1" r="2.35" class="r"/><circle cx="151.6" cy="233.4" r="2.35" class="r"/><circle cx="114.8" cy="272.0" r="2.35" class="r"/><circle cx="116.7" cy="263.5" r="2.35" class="r"/><circle cx="166.1" cy="216.2" r="2.35" class="b"/><circle cx="105.8" cy="278.7" r="2.35" class="r"/><circle cx="141.2" cy="239.4" r="2.35" class="b"/><circle cx="170.6" cy="220.0" r="2.35" class="r"/><circle cx="150.4" cy="232.2" r="2.35" class="b"/><circle cx="206.5" cy="176.0" r="2.35" class="b"/><circle cx="166.3" cy="214.7" r="2.35" class="b"/><circle cx="110.5" cy="273.9" r="2.35" class="r"/><circle cx="146.3" cy="235.1" r="2.35" class="b"/><circle cx="148.5" cy="233.6" r="2.35" class="b"/><circle cx="121.7" cy="265.2" r="2.35" class="r"/><circle cx="140.4" cy="246.8" r="2.35" class="r"/><circle cx="116.7" cy="267.7" r="2.35" class="r"/><circle cx="162.4" cy="218.7" r="2.35" class="b"/><circle cx="131.8" cy="249.0" r="2.35" class="r"/><circle cx="139.7" cy="242.1" r="2.35" class="r"/><circle cx="182.2" cy="199.2" r="2.35" class="r"/><circle cx="151.8" cy="229.9" r="2.35" class="b"/><circle cx="129.1" cy="255.8" r="2.35" class="r"/><circle cx="135.9" cy="245.7" r="2.35" class="r"/><circle cx="152.8" cy="228.0" r="2.35" class="b"/><circle cx="104.4" cy="277.6" r="2.35" class="r"/><circle cx="127.5" cy="253.8" r="2.35" class="b"/><circle cx="117.7" cy="263.3" r="2.35" class="b"/><circle cx="137.7" cy="248.4" r="2.35" class="r"/><circle cx="137.5" cy="246.1" r="2.35" class="r"/><circle cx="182.2" cy="199.0" r="2.35" class="b"/><circle cx="140.2" cy="241.7" r="2.35" class="b"/><circle cx="142.2" cy="245.1" r="2.35" class="r"/><circle cx="163.9" cy="217.2" r="2.35" class="b"/><circle cx="143.0" cy="240.5" r="2.35" class="r"/><circle cx="200.7" cy="184.3" r="2.35" class="r"/><circle cx="118.7" cy="263.1" r="2.35" class="b"/><circle cx="154.7" cy="231.9" r="2.35" class="r"/><circle cx="101.5" cy="280.1" r="2.35" class="r"/><circle cx="147.5" cy="233.4" r="2.35" class="r"/><circle cx="137.3" cy="247.5" r="2.35" class="r"/><circle cx="204.6" cy="176.1" r="2.35" class="r"/><circle cx="95.1" cy="281.3" r="2.35" class="b"/><circle cx="151.0" cy="230.3" r="2.35" class="b"/><circle cx="114.0" cy="267.1" r="2.35" class="b"/><circle cx="173.9" cy="208.4" r="2.35" class="r"/><circle cx="129.3" cy="257.8" r="2.35" class="r"/><circle cx="131.2" cy="250.0" r="2.35" class="b"/><circle cx="142.4" cy="241.5" r="2.35" class="r"/><circle cx="159.8" cy="221.8" r="2.35" class="b"/><circle cx="129.3" cy="257.3" r="2.35" class="b"/><circle cx="176.5" cy="203.6" r="2.35" class="b"/><circle cx="177.1" cy="202.5" r="2.35" class="r"/><circle cx="160.6" cy="226.0" r="2.35" class="r"/><circle cx="144.6" cy="237.6" r="2.35" class="r"/></g>
<g stroke="#777" stroke-width="1.3" stroke-linecap="square"><line x1="47.8" y1="4.0" x2="374.5" y2="4.0"/><line x1="47.8" y1="336.3" x2="374.5" y2="336.3"/><line x1="47.8" y1="4.0" x2="47.8" y2="336.3"/><line x1="374.5" y1="4.0" x2="374.5" y2="336.3"/></g>
<g stroke="#777" stroke-width="1.3"><line x1="43.3" y1="336.20" x2="47.8" y2="336.20"/><line x1="47.60" y1="336.3" x2="47.60" y2="340.3"/><line x1="43.3" y1="253.15" x2="47.8" y2="253.15"/><line x1="129.32" y1="336.3" x2="129.32" y2="340.3"/><line x1="43.3" y1="170.10" x2="47.8" y2="170.10"/><line x1="211.05" y1="336.3" x2="211.05" y2="340.3"/><line x1="43.3" y1="87.05" x2="47.8" y2="87.05"/><line x1="292.77" y1="336.3" x2="292.77" y2="340.3"/><line x1="43.3" y1="4.00" x2="47.8" y2="4.00"/><line x1="374.50" y1="336.3" x2="374.50" y2="340.3"/></g>
<text x="37.6" y="340.3" font-size="11" text-anchor="end" textLength="5.3" lengthAdjust="spacingAndGlyphs">0</text>
<text x="47.6" y="351.0" font-size="11" text-anchor="middle">0</text>
<text x="37.6" y="257.2" font-size="11" text-anchor="end" textLength="15.9" lengthAdjust="spacingAndGlyphs">200</text>
<text x="129.3" y="351.0" font-size="11" text-anchor="middle">200</text>
<text x="37.6" y="174.2" font-size="11" text-anchor="end" textLength="15.9" lengthAdjust="spacingAndGlyphs">400</text>
<text x="211.0" y="351.0" font-size="11" text-anchor="middle">400</text>
<text x="37.6" y="91.1" font-size="11" text-anchor="end" textLength="15.9" lengthAdjust="spacingAndGlyphs">600</text>
<text x="292.8" y="351.0" font-size="11" text-anchor="middle">600</text>
<text x="37.6" y="8.1" font-size="11" text-anchor="end" textLength="15.9" lengthAdjust="spacingAndGlyphs">800</text>
<text x="374.5" y="351.0" font-size="11" text-anchor="middle">800</text>
<text x="211" y="370.8" font-size="11" text-anchor="middle" textLength="134" lengthAdjust="spacingAndGlyphs">AI estimated length (mm)</text>
<text transform="translate(8.7,170) rotate(-90)" font-size="11" text-anchor="middle" textLength="159.6" lengthAdjust="spacingAndGlyphs">Human estimated length (mm)</text>
<text x="60.6" y="23.9" font-size="12.5" text-anchor="start" textLength="6.6" lengthAdjust="spacingAndGlyphs" style="stroke:none">a</text>
<text x="60.6" y="38.9" font-size="10" text-anchor="start" textLength="67" lengthAdjust="spacingAndGlyphs">y=2.79+0.986x</text>
<text x="60.6" y="51.2" font-size="10" text-anchor="start">R<tspan font-size="6" dy="-4">2</tspan><tspan dy="4">=0.996</tspan></text>
<circle cx="63.5" cy="63.7" r="2.4" fill="rgba(240,118,110,0.42)" stroke="rgba(240,118,110,0.5)" stroke-width="0.8"/>
<text x="69.4" y="66.8" font-size="10.5" text-anchor="start" textLength="31.2" lengthAdjust="spacingAndGlyphs">CV.Mat</text>
<circle cx="63.5" cy="78.7" r="2.4" fill="rgba(86,180,233,0.42)" stroke="rgba(86,180,233,0.5)" stroke-width="0.8"/>
<text x="69.4" y="81.8" font-size="10.5" text-anchor="start" textLength="41.2" lengthAdjust="spacingAndGlyphs">CV.board</text>
<g stroke="#f6f6f6" stroke-width="1.5"><line x1="473.42" y1="5.0" x2="473.42" y2="168.6"/><line x1="506.33" y1="5.0" x2="506.33" y2="168.6"/><line x1="539.25" y1="5.0" x2="539.25" y2="168.6"/><line x1="572.17" y1="5.0" x2="572.17" y2="168.6"/><line x1="605.08" y1="5.0" x2="605.08" y2="168.6"/><line x1="638.00" y1="5.0" x2="638.00" y2="168.6"/><line x1="670.92" y1="5.0" x2="670.92" y2="168.6"/><line x1="440.7" y1="14.25" x2="684.4" y2="14.25"/><line x1="440.7" y1="31.40" x2="684.4" y2="31.40"/><line x1="440.7" y1="48.55" x2="684.4" y2="48.55"/><line x1="440.7" y1="65.70" x2="684.4" y2="65.70"/><line x1="440.7" y1="82.85" x2="684.4" y2="82.85"/><line x1="440.7" y1="100.00" x2="684.4" y2="100.00"/><line x1="440.7" y1="117.15" x2="684.4" y2="117.15"/><line x1="440.7" y1="134.30" x2="684.4" y2="134.30"/><line x1="440.7" y1="151.45" x2="684.4" y2="151.45"/></g>
<clipPath id="cb"><rect x="440.7" y="5.0" width="243.7" height="163.6"/></clipPath>
<g clip-path="url(#cb)">
<line x1="440.7" y1="56.44" x2="684.4" y2="56.44" stroke="#b9b9b9" stroke-width="1.3" stroke-dasharray="7.4 7.4"/>
<line x1="440.7" y1="128.13" x2="684.4" y2="128.13" stroke="#b9b9b9" stroke-width="1.3" stroke-dasharray="7.4 7.4"/>
<g fill="rgba(240,118,110,0.6)" stroke="rgba(240,118,110,0.6)" stroke-width="0.8"><circle cx="505.8" cy="82.8" r="2.35"/><circle cx="510.0" cy="82.8" r="2.35"/><circle cx="528.7" cy="65.7" r="2.35"/><circle cx="505.8" cy="96.6" r="2.35"/><circle cx="507.8" cy="79.4" r="2.35"/><circle cx="496.8" cy="82.8" r="2.35"/><circle cx="490.5" cy="86.3" r="2.35"/><circle cx="527.9" cy="89.7" r="2.35"/><circle cx="509.5" cy="110.3" r="2.35"/><circle cx="508.6" cy="100.0" r="2.35"/><circle cx="531.0" cy="100.0" r="2.35"/><circle cx="503.4" cy="110.3" r="2.35"/><circle cx="511.6" cy="100.0" r="2.35"/><circle cx="517.5" cy="82.8" r="2.35"/><circle cx="519.2" cy="72.6" r="2.35"/><circle cx="511.9" cy="106.9" r="2.35"/><circle cx="522.5" cy="100.0" r="2.35"/><circle cx="502.1" cy="86.3" r="2.35"/><circle cx="523.1" cy="100.0" r="2.35"/><circle cx="492.7" cy="65.7" r="2.35"/><circle cx="495.0" cy="100.0" r="2.35"/><circle cx="518.8" cy="72.6" r="2.35"/><circle cx="489.9" cy="120.6" r="2.35"/><circle cx="504.2" cy="65.7" r="2.35"/><circle cx="516.2" cy="69.1" r="2.35"/><circle cx="510.6" cy="86.3" r="2.35"/><circle cx="540.7" cy="110.3" r="2.35"/><circle cx="487.6" cy="89.7" r="2.35"/><circle cx="487.6" cy="93.1" r="2.35"/><circle cx="523.5" cy="100.0" r="2.35"/><circle cx="498.1" cy="110.3" r="2.35"/><circle cx="514.4" cy="86.3" r="2.35"/><circle cx="505.0" cy="103.4" r="2.35"/><circle cx="496.3" cy="62.3" r="2.35"/><circle cx="520.7" cy="82.8" r="2.35"/><circle cx="522.0" cy="72.6" r="2.35"/><circle cx="497.9" cy="89.7" r="2.35"/><circle cx="534.6" cy="110.3" r="2.35"/><circle cx="504.9" cy="86.3" r="2.35"/><circle cx="530.9" cy="106.9" r="2.35"/><circle cx="496.8" cy="110.3" r="2.35"/><circle cx="535.1" cy="65.7" r="2.35"/><circle cx="521.8" cy="100.0" r="2.35"/><circle cx="514.1" cy="89.7" r="2.35"/><circle cx="497.1" cy="89.7" r="2.35"/><circle cx="533.3" cy="110.3" r="2.35"/><circle cx="512.6" cy="86.3" r="2.35"/><circle cx="518.8" cy="106.9" r="2.35"/><circle cx="488.9" cy="82.8" r="2.35"/><circle cx="499.3" cy="79.4" r="2.35"/><circle cx="515.9" cy="82.8" r="2.35"/><circle cx="498.6" cy="76.0" r="2.35"/><circle cx="512.4" cy="103.4" r="2.35"/><circle cx="520.2" cy="86.3" r="2.35"/><circle cx="528.7" cy="86.3" r="2.35"/><circle cx="513.6" cy="103.4" r="2.35"/><circle cx="523.1" cy="100.0" r="2.35"/><circle cx="493.7" cy="96.6" r="2.35"/><circle cx="517.0" cy="110.3" r="2.35"/><circle cx="532.2" cy="103.4" r="2.35"/><circle cx="545.8" cy="110.3" r="2.35"/><circle cx="511.8" cy="96.6" r="2.35"/><circle cx="514.9" cy="106.9" r="2.35"/><circle cx="516.2" cy="86.3" r="2.35"/><circle cx="542.0" cy="113.7" r="2.35"/><circle cx="508.0" cy="106.9" r="2.35"/><circle cx="506.0" cy="69.1" r="2.35"/><circle cx="521.8" cy="79.4" r="2.35"/><circle cx="523.8" cy="86.3" r="2.35"/><circle cx="545.7" cy="96.6" r="2.35"/><circle cx="531.8" cy="82.8" r="2.35"/><circle cx="502.5" cy="110.3" r="2.35"/><circle cx="488.2" cy="89.7" r="2.35"/><circle cx="490.4" cy="86.3" r="2.35"/><circle cx="500.4" cy="110.3" r="2.35"/><circle cx="513.1" cy="96.6" r="2.35"/><circle cx="514.7" cy="106.9" r="2.35"/><circle cx="493.2" cy="82.8" r="2.35"/><circle cx="515.2" cy="69.1" r="2.35"/><circle cx="517.0" cy="100.0" r="2.35"/><circle cx="535.0" cy="100.0" r="2.35"/><circle cx="491.5" cy="120.6" r="2.35"/><circle cx="515.5" cy="100.0" r="2.35"/><circle cx="517.5" cy="76.0" r="2.35"/><circle cx="511.4" cy="113.7" r="2.35"/><circle cx="515.9" cy="103.4" r="2.35"/><circle cx="520.5" cy="79.4" r="2.35"/><circle cx="521.1" cy="65.7" r="2.35"/><circle cx="510.3" cy="89.7" r="2.35"/><circle cx="506.2" cy="93.1" r="2.35"/><circle cx="485.4" cy="103.4" r="2.35"/><circle cx="507.3" cy="82.8" r="2.35"/><circle cx="517.4" cy="86.3" r="2.35"/><circle cx="488.9" cy="106.9" r="2.35"/><circle cx="495.8" cy="72.6" r="2.35"/><circle cx="511.4" cy="82.8" r="2.35"/><circle cx="486.6" cy="106.9" r="2.35"/><circle cx="517.0" cy="86.3" r="2.35"/><circle cx="516.9" cy="89.7" r="2.35"/><circle cx="521.8" cy="96.6" r="2.35"/><circle cx="516.9" cy="79.4" r="2.35"/><circle cx="512.9" cy="82.8" r="2.35"/><circle cx="490.0" cy="82.8" r="2.35"/><circle cx="540.9" cy="89.7" r="2.35"/><circle cx="501.6" cy="86.3" r="2.35"/><circle cx="517.2" cy="86.3" r="2.35"/><circle cx="518.7" cy="100.0" r="2.35"/><circle cx="498.4" cy="100.0" r="2.35"/><circle cx="524.6" cy="89.7" r="2.35"/><circle cx="535.5" cy="82.8" r="2.35"/><circle cx="519.3" cy="72.6" r="2.35"/><circle cx="521.5" cy="110.3" r="2.35"/><circle cx="488.1" cy="120.6" r="2.35"/><circle cx="493.2" cy="76.0" r="2.35"/><circle cx="501.7" cy="106.9" r="2.35"/><circle cx="534.3" cy="72.6" r="2.35"/><circle cx="518.8" cy="110.3" r="2.35"/><circle cx="498.1" cy="86.3" r="2.35"/><circle cx="506.5" cy="69.1" r="2.35"/><circle cx="505.7" cy="69.1" r="2.35"/><circle cx="540.9" cy="93.1" r="2.35"/><circle cx="504.7" cy="86.3" r="2.35"/><circle cx="516.9" cy="93.1" r="2.35"/><circle cx="511.9" cy="100.0" r="2.35"/><circle cx="507.3" cy="89.7" r="2.35"/><circle cx="499.8" cy="96.6" r="2.35"/><circle cx="528.2" cy="96.6" r="2.35"/><circle cx="509.8" cy="89.7" r="2.35"/><circle cx="529.5" cy="120.6" r="2.35"/><circle cx="504.7" cy="79.4" r="2.35"/><circle cx="534.1" cy="106.9" r="2.35"/><circle cx="518.3" cy="93.1" r="2.35"/><circle cx="532.0" cy="86.3" r="2.35"/><circle cx="489.1" cy="86.3" r="2.35"/><circle cx="505.7" cy="82.8" r="2.35"/><circle cx="525.8" cy="113.7" r="2.35"/><circle cx="525.6" cy="100.0" r="2.35"/><circle cx="530.0" cy="89.7" r="2.35"/><circle cx="511.6" cy="106.9" r="2.35"/><circle cx="522.3" cy="117.2" r="2.35"/><circle cx="494.5" cy="69.1" r="2.35"/><circle cx="525.6" cy="72.6" r="2.35"/><circle cx="504.4" cy="120.6" r="2.35"/><circle cx="511.8" cy="93.1" r="2.35"/><circle cx="497.1" cy="113.7" r="2.35"/><circle cx="504.0" cy="100.0" r="2.35"/><circle cx="513.4" cy="82.8" r="2.35"/><circle cx="547.1" cy="110.3" r="2.35"/><circle cx="507.0" cy="89.7" r="2.35"/><circle cx="516.9" cy="86.3" r="2.35"/><circle cx="500.2" cy="86.3" r="2.35"/><circle cx="514.9" cy="100.0" r="2.35"/><circle cx="500.2" cy="69.1" r="2.35"/><circle cx="490.5" cy="79.4" r="2.35"/><circle cx="494.3" cy="113.7" r="2.35"/><circle cx="509.1" cy="69.1" r="2.35"/><circle cx="490.9" cy="86.3" r="2.35"/><circle cx="492.5" cy="113.7" r="2.35"/><circle cx="544.2" cy="100.0" r="2.35"/><circle cx="481.5" cy="113.7" r="2.35"/><circle cx="502.1" cy="100.0" r="2.35"/><circle cx="522.8" cy="103.4" r="2.35"/><circle cx="518.8" cy="76.0" r="2.35"/><circle cx="545.7" cy="117.2" r="2.35"/><circle cx="511.6" cy="69.1" r="2.35"/><circle cx="513.9" cy="69.1" r="2.35"/><circle cx="527.4" cy="69.1" r="2.35"/><circle cx="490.2" cy="72.6" r="2.35"/><circle cx="513.2" cy="79.4" r="2.35"/><circle cx="487.6" cy="89.7" r="2.35"/><circle cx="509.0" cy="113.7" r="2.35"/><circle cx="510.4" cy="72.6" r="2.35"/><circle cx="504.4" cy="100.0" r="2.35"/><circle cx="519.2" cy="86.3" r="2.35"/><circle cx="518.5" cy="110.3" r="2.35"/><circle cx="537.3" cy="110.3" r="2.35"/><circle cx="510.3" cy="120.6" r="2.35"/><circle cx="546.0" cy="100.0" r="2.35"/><circle cx="513.7" cy="76.0" r="2.35"/><circle cx="488.7" cy="76.0" r="2.35"/><circle cx="523.1" cy="76.0" r="2.35"/><circle cx="526.1" cy="96.6" r="2.35"/><circle cx="495.5" cy="86.3" r="2.35"/><circle cx="490.9" cy="106.9" r="2.35"/><circle cx="519.5" cy="106.9" r="2.35"/><circle cx="494.6" cy="89.7" r="2.35"/><circle cx="521.8" cy="110.3" r="2.35"/><circle cx="532.0" cy="103.4" r="2.35"/><circle cx="505.2" cy="79.4" r="2.35"/><circle cx="514.7" cy="58.8" r="2.35"/><circle cx="529.5" cy="113.7" r="2.35"/><circle cx="494.2" cy="100.0" r="2.35"/><circle cx="499.9" cy="110.3" r="2.35"/><circle cx="505.2" cy="62.3" r="2.35"/><circle cx="520.5" cy="117.2" r="2.35"/><circle cx="519.7" cy="93.1" r="2.35"/><circle cx="531.8" cy="76.0" r="2.35"/><circle cx="544.4" cy="110.3" r="2.35"/><circle cx="503.5" cy="106.9" r="2.35"/><circle cx="506.0" cy="96.6" r="2.35"/><circle cx="484.4" cy="110.3" r="2.35"/><circle cx="503.9" cy="79.4" r="2.35"/><circle cx="506.7" cy="103.4" r="2.35"/><circle cx="547.1" cy="103.4" r="2.35"/><circle cx="516.0" cy="110.3" r="2.35"/><circle cx="484.9" cy="82.8" r="2.35"/><circle cx="498.3" cy="76.0" r="2.35"/><circle cx="521.0" cy="117.2" r="2.35"/><circle cx="494.6" cy="96.6" r="2.35"/><circle cx="487.9" cy="117.2" r="2.35"/><circle cx="532.2" cy="117.2" r="2.35"/><circle cx="531.5" cy="120.6" r="2.35"/><circle cx="532.8" cy="113.7" r="2.35"/><circle cx="486.7" cy="86.3" r="2.35"/><circle cx="522.5" cy="106.9" r="2.35"/><circle cx="486.7" cy="117.2" r="2.35"/><circle cx="522.6" cy="82.8" r="2.35"/><circle cx="510.1" cy="113.7" r="2.35"/><circle cx="520.8" cy="106.9" r="2.35"/><circle cx="512.3" cy="82.8" r="2.35"/><circle cx="492.7" cy="82.8" r="2.35"/><circle cx="520.7" cy="79.4" r="2.35"/><circle cx="516.7" cy="100.0" r="2.35"/><circle cx="511.6" cy="65.7" r="2.35"/><circle cx="526.1" cy="93.1" r="2.35"/><circle cx="488.4" cy="89.7" r="2.35"/><circle cx="523.3" cy="106.9" r="2.35"/><circle cx="511.3" cy="76.0" r="2.35"/><circle cx="483.8" cy="93.1" r="2.35"/><circle cx="512.6" cy="89.7" r="2.35"/><circle cx="509.5" cy="93.1" r="2.35"/><circle cx="506.3" cy="86.3" r="2.35"/><circle cx="498.8" cy="89.7" r="2.35"/><circle cx="520.2" cy="100.0" r="2.35"/><circle cx="489.2" cy="93.1" r="2.35"/><circle cx="496.0" cy="103.4" r="2.35"/><circle cx="518.7" cy="72.6" r="2.35"/><circle cx="516.9" cy="79.4" r="2.35"/><circle cx="514.9" cy="103.4" r="2.35"/><circle cx="535.3" cy="100.0" r="2.35"/><circle cx="495.1" cy="113.7" r="2.35"/><circle cx="498.4" cy="120.6" r="2.35"/><circle cx="493.5" cy="110.3" r="2.35"/><circle cx="487.1" cy="82.8" r="2.35"/><circle cx="508.0" cy="79.4" r="2.35"/><circle cx="524.6" cy="79.4" r="2.35"/><circle cx="513.9" cy="96.6" r="2.35"/><circle cx="522.8" cy="72.6" r="2.35"/><circle cx="503.4" cy="82.8" r="2.35"/><circle cx="513.2" cy="96.6" r="2.35"/><circle cx="505.8" cy="72.6" r="2.35"/><circle cx="511.8" cy="79.4" r="2.35"/><circle cx="528.2" cy="96.6" r="2.35"/><circle cx="534.1" cy="100.0" r="2.35"/><circle cx="485.9" cy="82.8" r="2.35"/><circle cx="496.3" cy="79.4" r="2.35"/><circle cx="509.6" cy="62.3" r="2.35"/><circle cx="509.3" cy="76.0" r="2.35"/><circle cx="505.3" cy="117.2" r="2.35"/><circle cx="485.8" cy="89.7" r="2.35"/><circle cx="501.1" cy="113.7" r="2.35"/><circle cx="505.5" cy="82.8" r="2.35"/><circle cx="492.0" cy="100.0" r="2.35"/><circle cx="512.4" cy="89.7" r="2.35"/><circle cx="508.5" cy="58.8" r="2.35"/><circle cx="521.3" cy="113.7" r="2.35"/><circle cx="518.2" cy="89.7" r="2.35"/><circle cx="490.4" cy="103.4" r="2.35"/><circle cx="513.1" cy="79.4" r="2.35"/><circle cx="514.6" cy="72.6" r="2.35"/><circle cx="534.0" cy="103.4" r="2.35"/><circle cx="505.3" cy="69.1" r="2.35"/><circle cx="507.8" cy="76.0" r="2.35"/><circle cx="486.6" cy="82.8" r="2.35"/><circle cx="480.7" cy="103.4" r="2.35"/><circle cx="516.0" cy="100.0" r="2.35"/><circle cx="482.0" cy="106.9" r="2.35"/><circle cx="504.7" cy="103.4" r="2.35"/><circle cx="493.0" cy="65.7" r="2.35"/><circle cx="517.2" cy="82.8" r="2.35"/><circle cx="531.0" cy="79.4" r="2.35"/><circle cx="504.4" cy="89.7" r="2.35"/><circle cx="536.9" cy="86.3" r="2.35"/><circle cx="522.6" cy="82.8" r="2.35"/><circle cx="522.1" cy="65.7" r="2.35"/><circle cx="509.3" cy="106.9" r="2.35"/><circle cx="507.6" cy="89.7" r="2.35"/><circle cx="540.2" cy="86.3" r="2.35"/><circle cx="501.7" cy="79.4" r="2.35"/><circle cx="506.3" cy="106.9" r="2.35"/><circle cx="515.4" cy="79.4" r="2.35"/><circle cx="532.3" cy="110.3" r="2.35"/><circle cx="539.7" cy="106.9" r="2.35"/><circle cx="541.6" cy="110.3" r="2.35"/><circle cx="536.6" cy="106.9" r="2.35"/><circle cx="526.2" cy="100.0" r="2.35"/><circle cx="529.5" cy="86.3" r="2.35"/><circle cx="533.7" cy="86.3" r="2.35"/><circle cx="523.6" cy="72.6" r="2.35"/><circle cx="520.3" cy="79.4" r="2.35"/><circle cx="504.4" cy="100.0" r="2.35"/><circle cx="505.0" cy="106.9" r="2.35"/><circle cx="505.2" cy="69.1" r="2.35"/><circle cx="519.2" cy="82.8" r="2.35"/><circle cx="522.5" cy="106.9" r="2.35"/><circle cx="504.2" cy="96.6" r="2.35"/><circle cx="514.1" cy="79.4" r="2.35"/><circle cx="524.8" cy="117.2" r="2.35"/><circle cx="535.1" cy="106.9" r="2.35"/><circle cx="504.5" cy="69.1" r="2.35"/><circle cx="518.5" cy="82.8" r="2.35"/><circle cx="541.9" cy="96.6" r="2.35"/><circle cx="490.2" cy="117.2" r="2.35"/><circle cx="512.9" cy="86.3" r="2.35"/><circle cx="519.3" cy="110.3" r="2.35"/><circle cx="509.6" cy="96.6" r="2.35"/><circle cx="503.5" cy="106.9" r="2.35"/><circle cx="546.7" cy="76.0" r="2.35"/><circle cx="501.9" cy="82.8" r="2.35"/><circle cx="497.4" cy="100.0" r="2.35"/><circle cx="517.5" cy="89.7" r="2.35"/><circle cx="533.8" cy="100.0" r="2.35"/><circle cx="523.3" cy="86.3" r="2.35"/><circle cx="494.2" cy="72.6" r="2.35"/><circle cx="493.2" cy="117.2" r="2.35"/><circle cx="529.7" cy="62.3" r="2.35"/><circle cx="527.4" cy="103.4" r="2.35"/><circle cx="522.6" cy="117.2" r="2.35"/><circle cx="512.1" cy="106.9" r="2.35"/><circle cx="525.8" cy="113.7" r="2.35"/><circle cx="492.0" cy="106.9" r="2.35"/><circle cx="510.4" cy="65.7" r="2.35"/><circle cx="494.0" cy="100.0" r="2.35"/><circle cx="510.0" cy="113.7" r="2.35"/><circle cx="505.3" cy="100.0" r="2.35"/><circle cx="524.4" cy="82.8" r="2.35"/><circle cx="504.2" cy="89.7" r="2.35"/><circle cx="497.1" cy="120.6" r="2.35"/><circle cx="506.5" cy="89.7" r="2.35"/><circle cx="500.1" cy="65.7" r="2.35"/><circle cx="531.5" cy="113.7" r="2.35"/><circle cx="539.6" cy="117.2" r="2.35"/><circle cx="504.0" cy="76.0" r="2.35"/><circle cx="512.1" cy="89.7" r="2.35"/><circle cx="506.5" cy="79.4" r="2.35"/><circle cx="523.5" cy="65.7" r="2.35"/><circle cx="507.0" cy="93.1" r="2.35"/><circle cx="524.1" cy="103.4" r="2.35"/><circle cx="481.8" cy="100.0" r="2.35"/><circle cx="508.8" cy="82.8" r="2.35"/><circle cx="508.1" cy="86.3" r="2.35"/><circle cx="519.0" cy="62.3" r="2.35"/><circle cx="505.2" cy="86.3" r="2.35"/><circle cx="523.3" cy="120.6" r="2.35"/><circle cx="499.8" cy="72.6" r="2.35"/><circle cx="532.0" cy="100.0" r="2.35"/><circle cx="481.2" cy="106.9" r="2.35"/><circle cx="536.8" cy="82.8" r="2.35"/><circle cx="504.2" cy="120.6" r="2.35"/><circle cx="525.4" cy="76.0" r="2.35"/><circle cx="505.5" cy="117.2" r="2.35"/><circle cx="507.3" cy="100.0" r="2.35"/><circle cx="517.9" cy="120.6" r="2.35"/><circle cx="493.2" cy="113.7" r="2.35"/><circle cx="501.7" cy="117.2" r="2.35"/><circle cx="508.3" cy="86.3" r="2.35"/><circle cx="484.1" cy="106.9" r="2.35"/><circle cx="504.2" cy="103.4" r="2.35"/><circle cx="502.5" cy="86.3" r="2.35"/><circle cx="492.5" cy="79.4" r="2.35"/><circle cx="504.0" cy="110.3" r="2.35"/><circle cx="517.7" cy="76.0" r="2.35"/><circle cx="505.0" cy="65.7" r="2.35"/><circle cx="512.4" cy="106.9" r="2.35"/><circle cx="526.4" cy="72.6" r="2.35"/><circle cx="521.3" cy="69.1" r="2.35"/><circle cx="537.6" cy="79.4" r="2.35"/><circle cx="506.0" cy="89.7" r="2.35"/><circle cx="535.8" cy="100.0" r="2.35"/><circle cx="516.5" cy="96.6" r="2.35"/><circle cx="493.8" cy="89.7" r="2.35"/><circle cx="530.9" cy="100.0" r="2.35"/><circle cx="513.6" cy="65.7" r="2.35"/><circle cx="492.5" cy="100.0" r="2.35"/><circle cx="527.0" cy="12.4" r="2.35"/><circle cx="502.5" cy="31.4" r="2.35"/><circle cx="514.0" cy="30.7" r="2.35"/><circle cx="536.1" cy="27.9" r="2.35"/><circle cx="518.6" cy="38.8" r="2.35"/><circle cx="578.3" cy="36.6" r="2.35"/><circle cx="623.3" cy="69.0" r="2.35"/><circle cx="673.0" cy="94.4" r="2.35"/><circle cx="607.8" cy="115.0" r="2.35"/><circle cx="614.2" cy="104.3" r="2.35"/><circle cx="494.1" cy="51.4" r="2.35"/><circle cx="497.5" cy="56.1" r="2.35"/><circle cx="518.4" cy="49.5" r="2.35"/><circle cx="521.2" cy="47.6" r="2.35"/><circle cx="523.7" cy="46.3" r="2.35"/><circle cx="528.4" cy="48.2" r="2.35"/><circle cx="535.5" cy="54.2" r="2.35"/><circle cx="534.5" cy="60.5" r="2.35"/><circle cx="551.2" cy="43.4" r="2.35"/><circle cx="551.6" cy="48.2" r="2.35"/><circle cx="548.2" cy="52.0" r="2.35"/><circle cx="556.3" cy="51.4" r="2.35"/><circle cx="576.3" cy="48.9" r="2.35"/><circle cx="577.2" cy="53.3" r="2.35"/><circle cx="587.1" cy="43.8" r="2.35"/><circle cx="596.2" cy="59.0" r="2.35"/><circle cx="599.0" cy="54.8" r="2.35"/><circle cx="504.5" cy="61.8" r="2.35"/><circle cx="513.3" cy="59.0" r="2.35"/><circle cx="516.5" cy="59.7" r="2.35"/><circle cx="525.0" cy="62.8" r="2.35"/><circle cx="544.6" cy="62.4" r="2.35"/><circle cx="547.8" cy="63.7" r="2.35"/><circle cx="561.1" cy="62.4" r="2.35"/><circle cx="570.6" cy="62.8" r="2.35"/><circle cx="498.5" cy="64.3" r="2.35"/><circle cx="509.3" cy="66.0" r="2.35"/><circle cx="538.7" cy="65.6" r="2.35"/><circle cx="547.4" cy="68.8" r="2.35"/><circle cx="562.4" cy="69.4" r="2.35"/><circle cx="552.2" cy="73.2" r="2.35"/><circle cx="558.6" cy="71.9" r="2.35"/><circle cx="544.0" cy="77.0" r="2.35"/><circle cx="564.3" cy="81.4" r="2.35"/><circle cx="573.4" cy="79.5" r="2.35"/><circle cx="580.4" cy="78.3" r="2.35"/><circle cx="495.6" cy="156.5" r="2.35"/><circle cx="556.5" cy="151.5" r="2.35"/><circle cx="515.9" cy="128.0" r="2.35"/><circle cx="518.7" cy="126.3" r="2.35"/><circle cx="553.3" cy="121.0" r="2.35"/><circle cx="543.3" cy="118.8" r="2.35"/><circle cx="573.2" cy="113.9" r="2.35"/><circle cx="586.5" cy="110.3" r="2.35"/><circle cx="589.2" cy="115.0" r="2.35"/><circle cx="546.9" cy="111.0" r="2.35"/><circle cx="542.6" cy="112.0" r="2.35"/><circle cx="553.3" cy="107.1" r="2.35"/><circle cx="561.9" cy="103.9" r="2.35"/><circle cx="567.2" cy="104.3" r="2.35"/><circle cx="568.7" cy="101.8" r="2.35"/><circle cx="573.6" cy="100.3" r="2.35"/><circle cx="577.9" cy="99.6" r="2.35"/><circle cx="564.0" cy="96.8" r="2.35"/><circle cx="581.8" cy="91.7" r="2.35"/><circle cx="570.4" cy="91.7" r="2.35"/><circle cx="556.5" cy="94.7" r="2.35"/><circle cx="554.0" cy="96.4" r="2.35"/><circle cx="546.5" cy="99.6" r="2.35"/><circle cx="549.0" cy="101.8" r="2.35"/><circle cx="540.2" cy="82.6" r="2.35"/><circle cx="555.5" cy="85.7" r="2.35"/><circle cx="559.3" cy="89.6" r="2.35"/><circle cx="542.0" cy="95.7" r="2.35"/><circle cx="541.6" cy="107.0" r="2.35"/><circle cx="629.0" cy="82.5" r="2.35"/><circle cx="640.4" cy="82.9" r="2.35"/><circle cx="598.6" cy="80.0" r="2.35"/></g>
<polygon points="481.48,93.57 486.27,93.17 491.05,92.75 495.84,92.32 500.62,91.85 505.41,91.37 510.19,90.85 514.98,90.30 519.76,89.72 524.55,89.10 529.33,88.46 534.12,87.79 538.90,87.09 543.69,86.37 548.47,85.64 553.26,84.88 558.05,84.12 562.83,83.34 567.62,82.55 572.40,81.75 577.19,80.95 581.97,80.14 586.76,79.33 591.54,78.51 596.33,77.69 601.11,76.86 605.90,76.04 610.68,75.21 615.47,74.38 620.25,73.54 625.04,72.71 629.82,71.87 634.61,71.03 639.39,70.19 644.18,69.35 648.97,68.51 653.75,67.67 658.54,66.82 663.32,65.98 668.11,65.13 672.89,64.29 672.89,83.36 668.11,83.66 663.32,83.97 658.54,84.27 653.75,84.57 648.97,84.88 644.18,85.18 639.39,85.49 634.61,85.80 629.82,86.10 625.04,86.41 620.25,86.73 615.47,87.04 610.68,87.35 605.90,87.67 601.11,87.99 596.33,88.31 591.54,88.64 586.76,88.97 581.97,89.30 577.19,89.64 572.40,89.98 567.62,90.33 562.83,90.69 558.05,91.06 553.26,91.44 548.47,91.83 543.69,92.24 538.90,92.67 534.12,93.12 529.33,93.60 524.55,94.10 519.76,94.63 514.98,95.20 510.19,95.80 505.41,96.43 500.62,97.08 495.84,97.77 491.05,98.48 486.27,99.21 481.48,99.95" fill="#939393" fill-opacity="0.85"/>
<line x1="440.7" y1="92.45" x2="684.4" y2="92.45" stroke="#6DB6E2" stroke-width="1.2"/>
<line x1="481.48" y1="96.76" x2="672.89" y2="73.83" stroke="#2a2a2a" stroke-opacity="0.9" stroke-width="1.35" stroke-dasharray="7 7.8"/>
</g>
<g stroke="#777" stroke-width="1.3" stroke-linecap="square"><line x1="440.7" y1="5.0" x2="684.4" y2="5.0"/><line x1="440.7" y1="168.6" x2="684.4" y2="168.6"/><line x1="440.7" y1="5.0" x2="440.7" y2="168.6"/><line x1="684.4" y1="5.0" x2="684.4" y2="168.6"/></g>
<g stroke="#777" stroke-width="1.3"><line x1="436.2" y1="31.40" x2="440.7" y2="31.40"/><line x1="436.2" y1="65.70" x2="440.7" y2="65.70"/><line x1="436.2" y1="100.00" x2="440.7" y2="100.00"/><line x1="436.2" y1="134.30" x2="440.7" y2="134.30"/><line x1="436.2" y1="168.60" x2="440.7" y2="168.60"/></g>
<text x="431.4" y="36.7" font-size="11" text-anchor="end" textLength="10.6" lengthAdjust="spacingAndGlyphs">20</text>
<text x="431.4" y="71.0" font-size="11" text-anchor="end" textLength="10.6" lengthAdjust="spacingAndGlyphs">10</text>
<text x="431.4" y="105.3" font-size="11" text-anchor="end" textLength="5.3" lengthAdjust="spacingAndGlyphs">0</text>
<text x="431.4" y="139.6" font-size="11" text-anchor="end" textLength="14.5" lengthAdjust="spacingAndGlyphs">-10</text>
<text x="431.4" y="172.0" font-size="11" text-anchor="end" textLength="14.5" lengthAdjust="spacingAndGlyphs">-20</text>
<text x="449.6" y="23.7" font-size="12.5" text-anchor="start" style="stroke-width:0.1px">b</text>
<text x="676" y="18.4" font-size="10" text-anchor="end">n = 462</text>
<text x="676" y="30.9" font-size="10" text-anchor="end" textLength="83.2" lengthAdjust="spacingAndGlyphs">y=−0.488+0.0115x</text>
<text x="676" y="43.6" font-size="10" text-anchor="end">R<tspan font-size="6" dy="-4">2</tspan><tspan dy="4">=0.03</tspan></text>
<g stroke="#f6f6f6" stroke-width="1.5"><line x1="473.42" y1="183.5" x2="473.42" y2="337.7"/><line x1="506.33" y1="183.5" x2="506.33" y2="337.7"/><line x1="539.25" y1="183.5" x2="539.25" y2="337.7"/><line x1="572.17" y1="183.5" x2="572.17" y2="337.7"/><line x1="605.08" y1="183.5" x2="605.08" y2="337.7"/><line x1="638.00" y1="183.5" x2="638.00" y2="337.7"/><line x1="670.92" y1="183.5" x2="670.92" y2="337.7"/><line x1="440.7" y1="200.50" x2="684.4" y2="200.50"/><line x1="440.7" y1="217.70" x2="684.4" y2="217.70"/><line x1="440.7" y1="234.90" x2="684.4" y2="234.90"/><line x1="440.7" y1="252.10" x2="684.4" y2="252.10"/><line x1="440.7" y1="269.30" x2="684.4" y2="269.30"/><line x1="440.7" y1="286.50" x2="684.4" y2="286.50"/><line x1="440.7" y1="303.70" x2="684.4" y2="303.70"/><line x1="440.7" y1="320.90" x2="684.4" y2="320.90"/></g>
<clipPath id="cc"><rect x="440.7" y="183.5" width="243.7" height="154.2"/></clipPath>
<g clip-path="url(#cc)">
<line x1="440.7" y1="251.31" x2="684.4" y2="251.31" stroke="#b9b9b9" stroke-width="1.3" stroke-dasharray="7.4 7.4"/>
<line x1="440.7" y1="297.51" x2="684.4" y2="297.51" stroke="#b9b9b9" stroke-width="1.3" stroke-dasharray="7.4 7.4"/>
<g fill="rgba(86,180,233,0.6)" stroke="rgba(86,180,233,0.6)" stroke-width="0.8"><circle cx="517.9" cy="262.4" r="2.35"/><circle cx="546.3" cy="289.9" r="2.35"/><circle cx="527.7" cy="272.7" r="2.35"/><circle cx="530.2" cy="279.6" r="2.35"/><circle cx="488.7" cy="269.3" r="2.35"/><circle cx="486.6" cy="289.9" r="2.35"/><circle cx="494.8" cy="283.1" r="2.35"/><circle cx="522.6" cy="272.7" r="2.35"/><circle cx="517.2" cy="269.3" r="2.35"/><circle cx="514.9" cy="279.6" r="2.35"/><circle cx="484.4" cy="286.5" r="2.35"/><circle cx="494.5" cy="272.7" r="2.35"/><circle cx="541.6" cy="272.7" r="2.35"/><circle cx="519.8" cy="272.7" r="2.35"/><circle cx="516.9" cy="272.7" r="2.35"/><circle cx="512.8" cy="272.7" r="2.35"/><circle cx="511.6" cy="269.3" r="2.35"/><circle cx="505.3" cy="279.6" r="2.35"/><circle cx="512.4" cy="279.6" r="2.35"/><circle cx="530.7" cy="276.2" r="2.35"/><circle cx="516.2" cy="269.3" r="2.35"/><circle cx="524.6" cy="262.4" r="2.35"/><circle cx="494.6" cy="283.1" r="2.35"/><circle cx="524.6" cy="279.6" r="2.35"/><circle cx="506.7" cy="276.2" r="2.35"/><circle cx="490.4" cy="276.2" r="2.35"/><circle cx="497.3" cy="279.6" r="2.35"/><circle cx="515.7" cy="279.6" r="2.35"/><circle cx="496.6" cy="283.1" r="2.35"/><circle cx="520.8" cy="272.7" r="2.35"/><circle cx="517.4" cy="272.7" r="2.35"/><circle cx="536.0" cy="279.6" r="2.35"/><circle cx="518.2" cy="276.2" r="2.35"/><circle cx="522.3" cy="272.7" r="2.35"/><circle cx="512.1" cy="276.2" r="2.35"/><circle cx="510.9" cy="289.9" r="2.35"/><circle cx="489.1" cy="279.6" r="2.35"/><circle cx="485.1" cy="279.6" r="2.35"/><circle cx="507.5" cy="279.6" r="2.35"/><circle cx="534.3" cy="269.3" r="2.35"/><circle cx="493.5" cy="269.3" r="2.35"/><circle cx="518.7" cy="286.5" r="2.35"/><circle cx="485.9" cy="265.9" r="2.35"/><circle cx="484.4" cy="276.2" r="2.35"/><circle cx="528.6" cy="289.9" r="2.35"/><circle cx="493.5" cy="283.1" r="2.35"/><circle cx="539.2" cy="276.2" r="2.35"/><circle cx="513.9" cy="269.3" r="2.35"/><circle cx="497.4" cy="262.4" r="2.35"/><circle cx="507.2" cy="272.7" r="2.35"/><circle cx="487.6" cy="265.9" r="2.35"/><circle cx="520.7" cy="265.9" r="2.35"/><circle cx="515.2" cy="269.3" r="2.35"/><circle cx="510.8" cy="262.4" r="2.35"/><circle cx="497.3" cy="262.4" r="2.35"/><circle cx="533.3" cy="265.9" r="2.35"/><circle cx="541.7" cy="276.2" r="2.35"/><circle cx="509.6" cy="276.2" r="2.35"/><circle cx="494.3" cy="279.6" r="2.35"/><circle cx="497.6" cy="283.1" r="2.35"/><circle cx="490.5" cy="283.1" r="2.35"/><circle cx="504.7" cy="286.5" r="2.35"/><circle cx="534.5" cy="276.2" r="2.35"/><circle cx="492.3" cy="269.3" r="2.35"/><circle cx="520.5" cy="276.2" r="2.35"/><circle cx="513.4" cy="283.1" r="2.35"/><circle cx="542.2" cy="276.2" r="2.35"/><circle cx="507.0" cy="279.6" r="2.35"/><circle cx="497.3" cy="289.9" r="2.35"/><circle cx="481.8" cy="265.9" r="2.35"/><circle cx="493.3" cy="269.3" r="2.35"/><circle cx="509.1" cy="262.4" r="2.35"/><circle cx="539.2" cy="279.6" r="2.35"/><circle cx="524.4" cy="262.4" r="2.35"/><circle cx="520.7" cy="286.5" r="2.35"/><circle cx="548.3" cy="272.7" r="2.35"/><circle cx="538.3" cy="283.1" r="2.35"/><circle cx="519.0" cy="265.9" r="2.35"/><circle cx="486.3" cy="262.4" r="2.35"/><circle cx="530.9" cy="279.6" r="2.35"/><circle cx="497.1" cy="283.1" r="2.35"/><circle cx="497.6" cy="269.3" r="2.35"/><circle cx="490.2" cy="289.9" r="2.35"/><circle cx="548.6" cy="269.3" r="2.35"/><circle cx="493.2" cy="272.7" r="2.35"/><circle cx="497.3" cy="272.7" r="2.35"/><circle cx="510.0" cy="265.9" r="2.35"/><circle cx="520.7" cy="269.3" r="2.35"/><circle cx="519.2" cy="272.7" r="2.35"/><circle cx="529.5" cy="286.5" r="2.35"/><circle cx="494.0" cy="276.2" r="2.35"/><circle cx="505.8" cy="269.3" r="2.35"/><circle cx="508.3" cy="279.6" r="2.35"/><circle cx="544.8" cy="272.7" r="2.35"/><circle cx="516.4" cy="276.2" r="2.35"/><circle cx="531.0" cy="272.7" r="2.35"/><circle cx="524.6" cy="283.1" r="2.35"/><circle cx="528.1" cy="262.4" r="2.35"/><circle cx="518.3" cy="289.9" r="2.35"/><circle cx="520.7" cy="286.5" r="2.35"/><circle cx="513.9" cy="269.3" r="2.35"/><circle cx="517.2" cy="279.6" r="2.35"/><circle cx="513.2" cy="279.6" r="2.35"/><circle cx="535.8" cy="265.9" r="2.35"/><circle cx="557.0" cy="272.7" r="2.35"/><circle cx="522.1" cy="283.1" r="2.35"/><circle cx="548.3" cy="269.3" r="2.35"/><circle cx="529.9" cy="272.7" r="2.35"/><circle cx="487.1" cy="279.6" r="2.35"/><circle cx="524.1" cy="279.6" r="2.35"/><circle cx="513.1" cy="283.1" r="2.35"/><circle cx="493.2" cy="286.5" r="2.35"/><circle cx="513.2" cy="272.7" r="2.35"/><circle cx="505.8" cy="286.5" r="2.35"/><circle cx="515.9" cy="279.6" r="2.35"/><circle cx="490.7" cy="269.3" r="2.35"/><circle cx="535.1" cy="265.9" r="2.35"/><circle cx="486.3" cy="283.1" r="2.35"/><circle cx="504.5" cy="276.2" r="2.35"/><circle cx="509.1" cy="279.6" r="2.35"/><circle cx="511.1" cy="289.9" r="2.35"/><circle cx="532.8" cy="289.9" r="2.35"/><circle cx="500.1" cy="286.5" r="2.35"/><circle cx="512.3" cy="286.5" r="2.35"/><circle cx="517.7" cy="286.5" r="2.35"/><circle cx="515.5" cy="283.1" r="2.35"/><circle cx="521.3" cy="276.2" r="2.35"/><circle cx="517.4" cy="283.1" r="2.35"/><circle cx="524.8" cy="269.3" r="2.35"/><circle cx="518.7" cy="262.4" r="2.35"/><circle cx="529.7" cy="265.9" r="2.35"/><circle cx="521.8" cy="276.2" r="2.35"/><circle cx="510.4" cy="279.6" r="2.35"/><circle cx="510.8" cy="272.7" r="2.35"/><circle cx="494.3" cy="279.6" r="2.35"/><circle cx="533.2" cy="283.1" r="2.35"/><circle cx="526.7" cy="262.4" r="2.35"/><circle cx="498.9" cy="262.4" r="2.35"/><circle cx="513.6" cy="276.2" r="2.35"/><circle cx="516.0" cy="283.1" r="2.35"/><circle cx="529.4" cy="272.7" r="2.35"/><circle cx="510.1" cy="262.4" r="2.35"/><circle cx="504.7" cy="276.2" r="2.35"/><circle cx="494.6" cy="289.9" r="2.35"/><circle cx="499.4" cy="269.3" r="2.35"/><circle cx="489.7" cy="283.1" r="2.35"/><circle cx="517.4" cy="286.5" r="2.35"/><circle cx="515.9" cy="265.9" r="2.35"/><circle cx="534.3" cy="286.5" r="2.35"/><circle cx="515.1" cy="265.9" r="2.35"/><circle cx="504.9" cy="279.6" r="2.35"/><circle cx="540.7" cy="269.3" r="2.35"/><circle cx="514.1" cy="269.3" r="2.35"/><circle cx="497.6" cy="283.1" r="2.35"/><circle cx="541.2" cy="272.7" r="2.35"/><circle cx="508.6" cy="265.9" r="2.35"/><circle cx="523.6" cy="272.7" r="2.35"/><circle cx="534.3" cy="265.9" r="2.35"/><circle cx="526.9" cy="289.9" r="2.35"/><circle cx="555.2" cy="269.3" r="2.35"/><circle cx="539.7" cy="286.5" r="2.35"/><circle cx="524.1" cy="276.2" r="2.35"/><circle cx="515.9" cy="276.2" r="2.35"/><circle cx="545.5" cy="272.7" r="2.35"/><circle cx="530.4" cy="272.7" r="2.35"/><circle cx="524.9" cy="283.1" r="2.35"/><circle cx="512.6" cy="272.7" r="2.35"/><circle cx="502.7" cy="276.2" r="2.35"/><circle cx="509.3" cy="276.2" r="2.35"/><circle cx="505.5" cy="269.3" r="2.35"/><circle cx="514.7" cy="276.2" r="2.35"/><circle cx="522.3" cy="265.9" r="2.35"/><circle cx="523.0" cy="276.2" r="2.35"/><circle cx="492.2" cy="272.7" r="2.35"/><circle cx="522.6" cy="283.1" r="2.35"/><circle cx="539.1" cy="279.6" r="2.35"/><circle cx="495.0" cy="269.3" r="2.35"/><circle cx="504.4" cy="289.9" r="2.35"/><circle cx="517.2" cy="269.3" r="2.35"/><circle cx="508.0" cy="272.7" r="2.35"/><circle cx="504.0" cy="269.3" r="2.35"/><circle cx="514.7" cy="279.6" r="2.35"/><circle cx="505.5" cy="265.9" r="2.35"/><circle cx="514.6" cy="262.4" r="2.35"/><circle cx="519.8" cy="269.3" r="2.35"/><circle cx="509.0" cy="283.1" r="2.35"/><circle cx="505.5" cy="279.6" r="2.35"/><circle cx="516.0" cy="283.1" r="2.35"/><circle cx="497.6" cy="283.1" r="2.35"/><circle cx="514.6" cy="272.7" r="2.35"/><circle cx="513.2" cy="279.6" r="2.35"/><circle cx="532.8" cy="269.3" r="2.35"/><circle cx="523.6" cy="276.2" r="2.35"/><circle cx="491.4" cy="279.6" r="2.35"/><circle cx="533.0" cy="276.2" r="2.35"/><circle cx="529.9" cy="283.1" r="2.35"/><circle cx="525.8" cy="279.6" r="2.35"/><circle cx="550.9" cy="276.2" r="2.35"/><circle cx="498.1" cy="276.2" r="2.35"/><circle cx="526.2" cy="283.1" r="2.35"/><circle cx="521.0" cy="286.5" r="2.35"/><circle cx="501.4" cy="276.2" r="2.35"/><circle cx="524.6" cy="269.3" r="2.35"/><circle cx="498.6" cy="279.6" r="2.35"/><circle cx="508.1" cy="272.7" r="2.35"/><circle cx="495.3" cy="262.4" r="2.35"/><circle cx="515.7" cy="276.2" r="2.35"/><circle cx="550.3" cy="286.5" r="2.35"/><circle cx="499.8" cy="272.7" r="2.35"/><circle cx="510.6" cy="265.9" r="2.35"/><circle cx="523.9" cy="262.4" r="2.35"/><circle cx="505.2" cy="283.1" r="2.35"/><circle cx="535.1" cy="265.9" r="2.35"/><circle cx="515.7" cy="276.2" r="2.35"/><circle cx="505.5" cy="269.3" r="2.35"/><circle cx="516.2" cy="279.6" r="2.35"/><circle cx="508.0" cy="272.7" r="2.35"/><circle cx="515.7" cy="276.2" r="2.35"/><circle cx="515.7" cy="289.9" r="2.35"/><circle cx="519.7" cy="276.2" r="2.35"/><circle cx="533.3" cy="276.2" r="2.35"/><circle cx="534.3" cy="272.7" r="2.35"/><circle cx="549.3" cy="272.7" r="2.35"/><circle cx="518.5" cy="276.2" r="2.35"/><circle cx="516.7" cy="279.6" r="2.35"/><circle cx="519.2" cy="269.3" r="2.35"/><circle cx="526.2" cy="272.7" r="2.35"/><circle cx="508.5" cy="276.2" r="2.35"/><circle cx="484.3" cy="272.7" r="2.35"/><circle cx="519.3" cy="262.4" r="2.35"/><circle cx="554.6" cy="276.2" r="2.35"/><circle cx="552.6" cy="272.7" r="2.35"/><circle cx="517.0" cy="272.7" r="2.35"/><circle cx="514.9" cy="286.5" r="2.35"/><circle cx="510.0" cy="279.6" r="2.35"/><circle cx="512.6" cy="276.2" r="2.35"/><circle cx="525.8" cy="279.6" r="2.35"/><circle cx="510.4" cy="279.6" r="2.35"/><circle cx="543.5" cy="272.7" r="2.35"/><circle cx="534.3" cy="279.6" r="2.35"/><circle cx="520.5" cy="269.3" r="2.35"/><circle cx="534.0" cy="269.3" r="2.35"/><circle cx="496.0" cy="289.9" r="2.35"/><circle cx="523.1" cy="265.9" r="2.35"/><circle cx="527.1" cy="276.2" r="2.35"/><circle cx="518.3" cy="286.5" r="2.35"/><circle cx="522.0" cy="279.6" r="2.35"/><circle cx="513.2" cy="283.1" r="2.35"/><circle cx="487.1" cy="269.3" r="2.35"/><circle cx="488.6" cy="269.3" r="2.35"/><circle cx="499.8" cy="283.1" r="2.35"/><circle cx="502.2" cy="272.7" r="2.35"/><circle cx="523.9" cy="272.7" r="2.35"/><circle cx="548.3" cy="286.5" r="2.35"/><circle cx="528.9" cy="272.7" r="2.35"/><circle cx="546.2" cy="276.2" r="2.35"/><circle cx="506.5" cy="276.2" r="2.35"/><circle cx="512.1" cy="269.3" r="2.35"/><circle cx="511.4" cy="262.4" r="2.35"/><circle cx="502.9" cy="262.4" r="2.35"/><circle cx="493.5" cy="286.5" r="2.35"/><circle cx="530.9" cy="286.5" r="2.35"/><circle cx="504.0" cy="276.2" r="2.35"/><circle cx="547.1" cy="269.3" r="2.35"/><circle cx="492.8" cy="262.4" r="2.35"/><circle cx="505.3" cy="272.7" r="2.35"/><circle cx="494.8" cy="279.6" r="2.35"/><circle cx="502.2" cy="279.6" r="2.35"/><circle cx="523.3" cy="283.1" r="2.35"/><circle cx="525.8" cy="262.4" r="2.35"/><circle cx="515.2" cy="279.6" r="2.35"/><circle cx="519.3" cy="272.7" r="2.35"/><circle cx="517.0" cy="276.2" r="2.35"/><circle cx="491.9" cy="265.9" r="2.35"/><circle cx="486.4" cy="262.4" r="2.35"/><circle cx="518.0" cy="276.2" r="2.35"/><circle cx="529.2" cy="265.9" r="2.35"/><circle cx="487.7" cy="289.9" r="2.35"/><circle cx="526.9" cy="265.9" r="2.35"/><circle cx="490.7" cy="283.1" r="2.35"/><circle cx="498.8" cy="276.2" r="2.35"/><circle cx="532.7" cy="283.1" r="2.35"/><circle cx="536.0" cy="269.3" r="2.35"/><circle cx="516.5" cy="283.1" r="2.35"/><circle cx="502.1" cy="279.6" r="2.35"/><circle cx="517.9" cy="272.7" r="2.35"/><circle cx="496.3" cy="286.5" r="2.35"/><circle cx="536.5" cy="276.2" r="2.35"/><circle cx="499.8" cy="272.7" r="2.35"/><circle cx="502.5" cy="279.6" r="2.35"/><circle cx="521.1" cy="283.1" r="2.35"/><circle cx="506.0" cy="279.6" r="2.35"/><circle cx="521.8" cy="269.3" r="2.35"/><circle cx="510.3" cy="269.3" r="2.35"/><circle cx="499.6" cy="265.9" r="2.35"/><circle cx="497.6" cy="265.9" r="2.35"/><circle cx="524.3" cy="279.6" r="2.35"/><circle cx="487.4" cy="272.7" r="2.35"/><circle cx="523.3" cy="272.7" r="2.35"/><circle cx="495.8" cy="262.4" r="2.35"/><circle cx="493.8" cy="283.1" r="2.35"/><circle cx="511.9" cy="272.7" r="2.35"/><circle cx="521.3" cy="276.2" r="2.35"/><circle cx="526.7" cy="279.6" r="2.35"/><circle cx="520.3" cy="276.2" r="2.35"/><circle cx="524.4" cy="279.6" r="2.35"/><circle cx="503.9" cy="269.3" r="2.35"/><circle cx="539.1" cy="272.7" r="2.35"/><circle cx="518.3" cy="283.1" r="2.35"/><circle cx="523.5" cy="279.6" r="2.35"/><circle cx="489.5" cy="279.6" r="2.35"/><circle cx="510.3" cy="289.9" r="2.35"/><circle cx="500.2" cy="289.9" r="2.35"/><circle cx="485.8" cy="269.3" r="2.35"/><circle cx="500.1" cy="279.6" r="2.35"/><circle cx="513.7" cy="272.7" r="2.35"/><circle cx="533.5" cy="262.4" r="2.35"/><circle cx="504.7" cy="289.9" r="2.35"/><circle cx="521.1" cy="276.2" r="2.35"/><circle cx="512.8" cy="265.9" r="2.35"/><circle cx="506.8" cy="289.9" r="2.35"/><circle cx="482.6" cy="272.7" r="2.35"/><circle cx="507.3" cy="265.9" r="2.35"/><circle cx="512.1" cy="276.2" r="2.35"/><circle cx="505.3" cy="265.9" r="2.35"/><circle cx="507.2" cy="276.2" r="2.35"/><circle cx="506.2" cy="272.7" r="2.35"/><circle cx="533.0" cy="265.9" r="2.35"/><circle cx="509.8" cy="269.3" r="2.35"/><circle cx="524.6" cy="272.7" r="2.35"/><circle cx="519.7" cy="262.4" r="2.35"/><circle cx="485.6" cy="269.3" r="2.35"/><circle cx="537.9" cy="272.7" r="2.35"/><circle cx="514.9" cy="279.6" r="2.35"/><circle cx="525.3" cy="279.6" r="2.35"/><circle cx="515.2" cy="272.7" r="2.35"/><circle cx="511.3" cy="276.2" r="2.35"/><circle cx="507.5" cy="265.9" r="2.35"/><circle cx="523.1" cy="283.1" r="2.35"/><circle cx="531.7" cy="286.5" r="2.35"/><circle cx="511.6" cy="276.2" r="2.35"/><circle cx="549.1" cy="272.7" r="2.35"/><circle cx="525.1" cy="279.6" r="2.35"/><circle cx="507.6" cy="276.2" r="2.35"/><circle cx="500.1" cy="272.7" r="2.35"/><circle cx="519.5" cy="279.6" r="2.35"/><circle cx="516.5" cy="265.9" r="2.35"/><circle cx="527.1" cy="279.6" r="2.35"/><circle cx="506.3" cy="272.7" r="2.35"/><circle cx="502.7" cy="279.6" r="2.35"/><circle cx="541.7" cy="286.5" r="2.35"/><circle cx="481.6" cy="279.6" r="2.35"/><circle cx="484.8" cy="286.5" r="2.35"/><circle cx="502.4" cy="289.9" r="2.35"/><circle cx="501.4" cy="265.9" r="2.35"/><circle cx="499.6" cy="279.6" r="2.35"/><circle cx="524.3" cy="289.9" r="2.35"/><circle cx="541.1" cy="276.2" r="2.35"/><circle cx="512.8" cy="283.1" r="2.35"/><circle cx="500.3" cy="231.2" r="2.35"/><circle cx="504.7" cy="234.9" r="2.35"/><circle cx="503.5" cy="241.6" r="2.35"/><circle cx="511.4" cy="241.6" r="2.35"/><circle cx="511.4" cy="244.8" r="2.35"/><circle cx="511.4" cy="248.0" r="2.35"/><circle cx="504.7" cy="255.5" r="2.35"/><circle cx="513.7" cy="255.5" r="2.35"/><circle cx="536.5" cy="238.1" r="2.35"/><circle cx="535.8" cy="241.6" r="2.35"/><circle cx="535.0" cy="248.5" r="2.35"/><circle cx="538.2" cy="248.5" r="2.35"/><circle cx="534.0" cy="252.3" r="2.35"/><circle cx="535.8" cy="256.0" r="2.35"/><circle cx="571.2" cy="248.5" r="2.35"/><circle cx="573.0" cy="255.5" r="2.35"/><circle cx="578.4" cy="252.3" r="2.35"/><circle cx="579.2" cy="255.5" r="2.35"/><circle cx="568.0" cy="258.5" r="2.35"/><circle cx="573.7" cy="258.5" r="2.35"/><circle cx="598.3" cy="255.5" r="2.35"/><circle cx="582.2" cy="262.2" r="2.35"/><circle cx="589.9" cy="275.8" r="2.35"/><circle cx="594.0" cy="272.6" r="2.35"/><circle cx="597.3" cy="272.6" r="2.35"/><circle cx="613.9" cy="275.8" r="2.35"/><circle cx="568.0" cy="282.0" r="2.35"/><circle cx="573.0" cy="282.0" r="2.35"/><circle cx="573.7" cy="278.8" r="2.35"/><circle cx="560.6" cy="279.0" r="2.35"/><circle cx="576.2" cy="272.1" r="2.35"/><circle cx="568.8" cy="272.1" r="2.35"/><circle cx="481.4" cy="323.9" r="2.35"/><circle cx="556.1" cy="330.7" r="2.35"/><circle cx="519.1" cy="316.9" r="2.35"/><circle cx="493.7" cy="310.2" r="2.35"/><circle cx="509.3" cy="306.6" r="2.35"/><circle cx="509.8" cy="300.0" r="2.35"/><circle cx="497.5" cy="303.6" r="2.35"/><circle cx="494.7" cy="300.0" r="2.35"/><circle cx="498.5" cy="300.0" r="2.35"/><circle cx="482.9" cy="293.1" r="2.35"/><circle cx="490.5" cy="296.0" r="2.35"/><circle cx="527.5" cy="296.2" r="2.35"/><circle cx="523.7" cy="293.1" r="2.35"/><circle cx="518.4" cy="293.1" r="2.35"/><circle cx="508.5" cy="293.1" r="2.35"/><circle cx="545.0" cy="282.7" r="2.35"/></g>
<polygon points="481.48,276.70 484.79,276.40 488.11,276.09 491.42,275.77 494.73,275.44 498.04,275.11 501.35,274.76 504.67,274.41 507.98,274.05 511.29,273.67 514.60,273.28 517.92,272.89 521.23,272.48 524.54,272.06 527.85,271.63 531.16,271.20 534.48,270.75 537.79,270.30 541.10,269.84 544.41,269.38 547.73,268.91 551.04,268.44 554.35,267.96 557.66,267.47 560.98,266.99 564.29,266.50 567.60,266.01 570.91,265.51 574.22,265.02 577.54,264.52 580.85,264.02 584.16,263.52 587.47,263.02 590.79,262.51 594.10,262.01 597.41,261.50 600.72,260.99 604.03,260.48 607.35,259.98 610.66,259.47 613.97,258.96 613.97,268.38 610.66,268.63 607.35,268.88 604.03,269.14 600.72,269.39 597.41,269.65 594.10,269.90 590.79,270.16 587.47,270.41 584.16,270.67 580.85,270.93 577.54,271.20 574.22,271.46 570.91,271.72 567.60,271.99 564.29,272.26 560.98,272.53 557.66,272.81 554.35,273.09 551.04,273.37 547.73,273.66 544.41,273.95 541.10,274.25 537.79,274.55 534.48,274.86 531.16,275.18 527.85,275.50 524.54,275.84 521.23,276.18 517.92,276.54 514.60,276.90 511.29,277.27 507.98,277.66 504.67,278.06 501.35,278.47 498.04,278.88 494.73,279.31 491.42,279.75 488.11,280.19 484.79,280.64 481.48,281.10" fill="#939393" fill-opacity="0.85"/>
<line x1="440.7" y1="274.39" x2="684.4" y2="274.39" stroke="#6DB6E2" stroke-width="1.2"/>
<line x1="481.48" y1="278.90" x2="613.97" y2="263.67" stroke="#2a2a2a" stroke-opacity="0.9" stroke-width="1.35" stroke-dasharray="7 7.8"/>
</g>
<g stroke="#777" stroke-width="1.3" stroke-linecap="square"><line x1="440.7" y1="183.5" x2="684.4" y2="183.5"/><line x1="440.7" y1="337.7" x2="684.4" y2="337.7"/><line x1="440.7" y1="183.5" x2="440.7" y2="337.7"/><line x1="684.4" y1="183.5" x2="684.4" y2="337.7"/></g>
<g stroke="#777" stroke-width="1.3"><line x1="436.2" y1="200.50" x2="440.7" y2="200.50"/><line x1="436.2" y1="234.90" x2="440.7" y2="234.90"/><line x1="436.2" y1="269.30" x2="440.7" y2="269.30"/><line x1="436.2" y1="303.70" x2="440.7" y2="303.70"/><line x1="436.2" y1="338.10" x2="440.7" y2="338.10"/><line x1="440.50" y1="337.7" x2="440.50" y2="341.2"/><line x1="506.33" y1="337.7" x2="506.33" y2="341.2"/><line x1="572.17" y1="337.7" x2="572.17" y2="341.2"/><line x1="638.00" y1="337.7" x2="638.00" y2="341.2"/></g>
<text x="431.4" y="205.8" font-size="11" text-anchor="end" textLength="10.6" lengthAdjust="spacingAndGlyphs">20</text>
<text x="431.4" y="240.2" font-size="11" text-anchor="end" textLength="10.6" lengthAdjust="spacingAndGlyphs">10</text>
<text x="431.4" y="274.6" font-size="11" text-anchor="end" textLength="5.3" lengthAdjust="spacingAndGlyphs">0</text>
<text x="431.4" y="309.0" font-size="11" text-anchor="end" textLength="14.5" lengthAdjust="spacingAndGlyphs">-10</text>
<text x="431.4" y="343.4" font-size="11" text-anchor="end" textLength="14.5" lengthAdjust="spacingAndGlyphs">-20</text>
<text x="440.5" y="350.3" font-size="11" text-anchor="middle">0</text>
<text x="506.3" y="350.3" font-size="11" text-anchor="middle">200</text>
<text x="572.2" y="350.3" font-size="11" text-anchor="middle">400</text>
<text x="638.0" y="350.3" font-size="11" text-anchor="middle">600</text>
<text x="449.4" y="199.9" font-size="12.5" text-anchor="start" style="stroke-width:0.1px">c</text>
<text x="676" y="197.8" font-size="10" text-anchor="end">n = 407</text>
<text x="676" y="210.8" font-size="10" text-anchor="end" textLength="72.5" lengthAdjust="spacingAndGlyphs">y=−4.16+0.011x</text>
<text x="676" y="223.6" font-size="10" text-anchor="end">R<tspan font-size="6" dy="-4">2</tspan><tspan dy="4">=0.05</tspan></text>
<text x="562.5" y="370.8" font-size="11" text-anchor="middle" textLength="152.6" lengthAdjust="spacingAndGlyphs">Mean of measurements (mm)</text>
<text transform="translate(409.3,169.5) rotate(-90)" font-size="11.5" text-anchor="middle" textLength="214" lengthAdjust="spacingAndGlyphs">Difference between measurements (mm)</text>
</svg></body></html>
